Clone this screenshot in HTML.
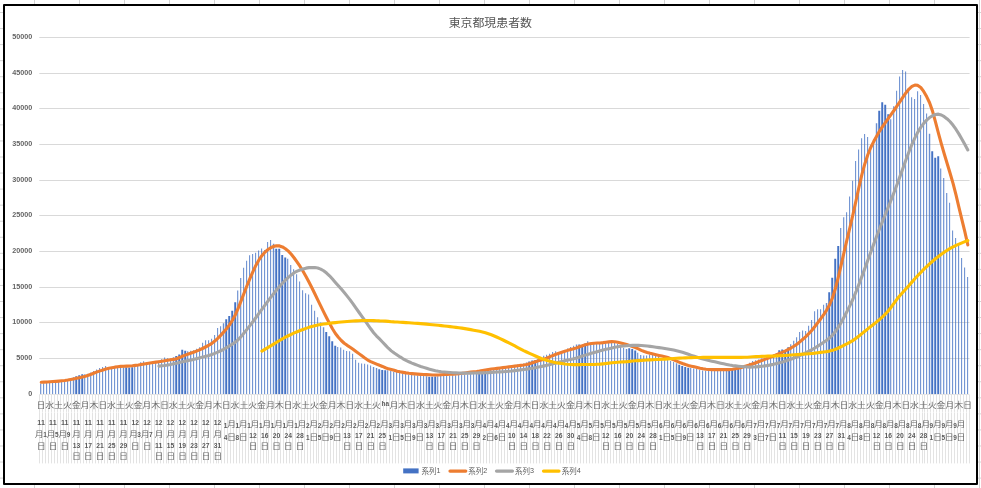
<!DOCTYPE html>
<html><head><meta charset="utf-8"><title>東京都現患者数</title>
<style>
html,body{margin:0;padding:0;background:#fff;}
body{width:981px;height:488px;overflow:hidden;}
svg{display:block;will-change:transform;}
text{font-family:"Liberation Sans","Noto Sans CJK JP",sans-serif;fill:#505050;}
.n{font-size:7.2px;font-weight:bold;fill:#646464;}
.l{font-size:7.2px;fill:#595959;}
.h{font-size:6.5px;font-weight:bold;fill:#5a5a5a;}
.d{font-size:7.1px;font-weight:bold;fill:#5a5a5a;}
.k{font-size:8px;fill:#6a6a6a;}
.t{font-size:11.9px;fill:#555;}
.s{font-size:7.5px;fill:#606060;}
</style></head><body>
<svg width="981" height="488" viewBox="0 0 981 488" role="img" aria-label="東京都現患者数 系列1 系列2 系列3 系列4">
<desc>東京都現患者数 — 系列1, 系列2, 系列3, 系列4</desc>
<rect width="981" height="488" fill="#fff"/>
<path d="M34.5 0V4M34.5 485V488M79.5 0V4M79.5 485V488M124.5 0V4M124.5 485V488M169.5 0V4M169.5 485V488M214.5 0V4M214.5 485V488M259.5 0V4M259.5 485V488M304.5 0V4M304.5 485V488M349.5 0V4M349.5 485V488M394.5 0V4M394.5 485V488M439.5 0V4M439.5 485V488M484.5 0V4M484.5 485V488M529.5 0V4M529.5 485V488M574.5 0V4M574.5 485V488M619.5 0V4M619.5 485V488M664.5 0V4M664.5 485V488M709.5 0V4M709.5 485V488M754.5 0V4M754.5 485V488M799.5 0V4M799.5 485V488M844.5 0V4M844.5 485V488M889.5 0V4M889.5 485V488M934.5 0V4M934.5 485V488M979.5 0V488M0 12.50H3M978 12.50H981M0 28.55H3M978 28.55H981M0 44.61H3M978 44.61H981M0 60.66H3M978 60.66H981M0 76.72H3M978 76.72H981M0 92.78H3M978 92.78H981M0 108.83H3M978 108.83H981M0 124.89H3M978 124.89H981M0 140.94H3M978 140.94H981M0 157.00H3M978 157.00H981M0 173.05H3M978 173.05H981M0 189.11H3M978 189.11H981M0 205.16H3M978 205.16H981M0 221.22H3M978 221.22H981M0 237.27H3M978 237.27H981M0 253.33H3M978 253.33H981M0 269.38H3M978 269.38H981M0 285.44H3M978 285.44H981M0 301.49H3M978 301.49H981M0 317.55H3M978 317.55H981M0 333.60H3M978 333.60H981M0 349.66H3M978 349.66H981M0 365.71H3M978 365.71H981M0 381.77H3M978 381.77H981M0 397.82H3M978 397.82H981M0 413.88H3M978 413.88H981M0 429.93H3M978 429.93H981M0 445.99H3M978 445.99H981M0 462.04H3M978 462.04H981M0 478.10H3M978 478.10H981" stroke="#d4d4d4" stroke-width="1" fill="none"/>
<rect x="4" y="5" width="973" height="479" fill="#fff" stroke="#000" stroke-width="2" stroke-linejoin="round"/>
<path d="M39.30 358.5H969.59M39.30 322.5H969.59M39.30 287.5H969.59M39.30 251.5H969.59M39.30 215.5H969.59M39.30 180.5H969.59M39.30 144.5H969.59M39.30 108.5H969.59M39.30 73.5H969.59M39.30 37.5H969.59" stroke="#d9d9d9" stroke-width="1" fill="none"/>
<path d="M39.3 394.5H969.59" stroke="#e4e4e4" stroke-width="1" fill="none"/>
<text x="32.2" y="395.50" class="n" text-anchor="end">0</text>
<text x="32.2" y="359.50" class="n" text-anchor="end">5000</text>
<text x="32.2" y="323.50" class="n" text-anchor="end">10000</text>
<text x="32.2" y="288.50" class="n" text-anchor="end">15000</text>
<text x="32.2" y="252.50" class="n" text-anchor="end">20000</text>
<text x="32.2" y="216.50" class="n" text-anchor="end">25000</text>
<text x="32.2" y="181.50" class="n" text-anchor="end">30000</text>
<text x="32.2" y="145.50" class="n" text-anchor="end">35000</text>
<text x="32.2" y="109.50" class="n" text-anchor="end">40000</text>
<text x="32.2" y="74.50" class="n" text-anchor="end">45000</text>
<text x="32.2" y="38.50" class="n" text-anchor="end">50000</text>
<path d="M39.5 395V463.4M42.5 395V463.4M45.5 395V463.4M48.5 395V463.4M51.5 395V463.4M54.5 395V463.4M57.5 395V463.4M60.5 395V463.4M63.5 395V463.4M66.5 395V463.4M68.5 395V463.4M71.5 395V463.4M74.5 395V463.4M77.5 395V463.4M80.5 395V463.4M83.5 395V463.4M86.5 395V463.4M89.5 395V463.4M92.5 395V463.4M95.5 395V463.4M98.5 395V463.4M101.5 395V463.4M104.5 395V463.4M107.5 395V463.4M110.5 395V463.4M113.5 395V463.4M116.5 395V463.4M118.5 395V463.4M121.5 395V463.4M124.5 395V463.4M127.5 395V463.4M130.5 395V463.4M133.5 395V463.4M136.5 395V463.4M139.5 395V463.4M142.5 395V463.4M145.5 395V463.4M148.5 395V463.4M151.5 395V463.4M154.5 395V463.4M157.5 395V463.4M160.5 395V463.4M163.5 395V463.4M166.5 395V463.4M168.5 395V463.4M171.5 395V463.4M174.5 395V463.4M177.5 395V463.4M180.5 395V463.4M183.5 395V463.4M186.5 395V463.4M189.5 395V463.4M192.5 395V463.4M195.5 395V463.4M198.5 395V463.4M201.5 395V463.4M204.5 395V463.4M207.5 395V463.4M210.5 395V463.4M213.5 395V463.4M216.5 395V463.4M218.5 395V463.4M221.5 395V463.4M224.5 395V463.4M227.5 395V463.4M230.5 395V463.4M233.5 395V463.4M236.5 395V463.4M239.5 395V463.4M242.5 395V463.4M245.5 395V463.4M248.5 395V463.4M251.5 395V463.4M254.5 395V463.4M257.5 395V463.4M260.5 395V463.4M263.5 395V463.4M266.5 395V463.4M268.5 395V463.4M271.5 395V463.4M274.5 395V463.4M277.5 395V463.4M280.5 395V463.4M283.5 395V463.4M286.5 395V463.4M289.5 395V463.4M292.5 395V463.4M295.5 395V463.4M298.5 395V463.4M301.5 395V463.4M304.5 395V463.4M307.5 395V463.4M310.5 395V463.4M313.5 395V463.4M316.5 395V463.4M318.5 395V463.4M321.5 395V463.4M324.5 395V463.4M327.5 395V463.4M330.5 395V463.4M333.5 395V463.4M336.5 395V463.4M339.5 395V463.4M342.5 395V463.4M345.5 395V463.4M348.5 395V463.4M351.5 395V463.4M354.5 395V463.4M357.5 395V463.4M360.5 395V463.4M363.5 395V463.4M366.5 395V463.4M368.5 395V463.4M371.5 395V463.4M374.5 395V463.4M377.5 395V463.4M380.5 395V463.4M383.5 395V463.4M386.5 395V463.4M389.5 395V463.4M392.5 395V463.4M395.5 395V463.4M398.5 395V463.4M401.5 395V463.4M404.5 395V463.4M407.5 395V463.4M410.5 395V463.4M413.5 395V463.4M416.5 395V463.4M419.5 395V463.4M421.5 395V463.4M424.5 395V463.4M427.5 395V463.4M430.5 395V463.4M433.5 395V463.4M436.5 395V463.4M439.5 395V463.4M442.5 395V463.4M445.5 395V463.4M448.5 395V463.4M451.5 395V463.4M454.5 395V463.4M457.5 395V463.4M460.5 395V463.4M463.5 395V463.4M466.5 395V463.4M469.5 395V463.4M471.5 395V463.4M474.5 395V463.4M477.5 395V463.4M480.5 395V463.4M483.5 395V463.4M486.5 395V463.4M489.5 395V463.4M492.5 395V463.4M495.5 395V463.4M498.5 395V463.4M501.5 395V463.4M504.5 395V463.4M507.5 395V463.4M510.5 395V463.4M513.5 395V463.4M516.5 395V463.4M519.5 395V463.4M521.5 395V463.4M524.5 395V463.4M527.5 395V463.4M530.5 395V463.4M533.5 395V463.4M536.5 395V463.4M539.5 395V463.4M542.5 395V463.4M545.5 395V463.4M548.5 395V463.4M551.5 395V463.4M554.5 395V463.4M557.5 395V463.4M560.5 395V463.4M563.5 395V463.4M566.5 395V463.4M569.5 395V463.4M571.5 395V463.4M574.5 395V463.4M577.5 395V463.4M580.5 395V463.4M583.5 395V463.4M586.5 395V463.4M589.5 395V463.4M592.5 395V463.4M595.5 395V463.4M598.5 395V463.4M601.5 395V463.4M604.5 395V463.4M607.5 395V463.4M610.5 395V463.4M613.5 395V463.4M616.5 395V463.4M619.5 395V463.4M621.5 395V463.4M624.5 395V463.4M627.5 395V463.4M630.5 395V463.4M633.5 395V463.4M636.5 395V463.4M639.5 395V463.4M642.5 395V463.4M645.5 395V463.4M648.5 395V463.4M651.5 395V463.4M654.5 395V463.4M657.5 395V463.4M660.5 395V463.4M663.5 395V463.4M666.5 395V463.4M669.5 395V463.4M671.5 395V463.4M674.5 395V463.4M677.5 395V463.4M680.5 395V463.4M683.5 395V463.4M686.5 395V463.4M689.5 395V463.4M692.5 395V463.4M695.5 395V463.4M698.5 395V463.4M701.5 395V463.4M704.5 395V463.4M707.5 395V463.4M710.5 395V463.4M713.5 395V463.4M716.5 395V463.4M719.5 395V463.4M721.5 395V463.4M724.5 395V463.4M727.5 395V463.4M730.5 395V463.4M733.5 395V463.4M736.5 395V463.4M739.5 395V463.4M742.5 395V463.4M745.5 395V463.4M748.5 395V463.4M751.5 395V463.4M754.5 395V463.4M757.5 395V463.4M760.5 395V463.4M763.5 395V463.4M766.5 395V463.4M769.5 395V463.4M771.5 395V463.4M774.5 395V463.4M777.5 395V463.4M780.5 395V463.4M783.5 395V463.4M786.5 395V463.4M789.5 395V463.4M792.5 395V463.4M795.5 395V463.4M798.5 395V463.4M801.5 395V463.4M804.5 395V463.4M807.5 395V463.4M810.5 395V463.4M813.5 395V463.4M816.5 395V463.4M819.5 395V463.4M821.5 395V463.4M824.5 395V463.4M827.5 395V463.4M830.5 395V463.4M833.5 395V463.4M836.5 395V463.4M839.5 395V463.4M842.5 395V463.4M845.5 395V463.4M848.5 395V463.4M851.5 395V463.4M854.5 395V463.4M857.5 395V463.4M860.5 395V463.4M863.5 395V463.4M866.5 395V463.4M869.5 395V463.4M871.5 395V463.4M874.5 395V463.4M877.5 395V463.4M880.5 395V463.4M883.5 395V463.4M886.5 395V463.4M889.5 395V463.4M892.5 395V463.4M895.5 395V463.4M898.5 395V463.4M901.5 395V463.4M904.5 395V463.4M907.5 395V463.4M910.5 395V463.4M913.5 395V463.4M916.5 395V463.4M919.5 395V463.4M922.5 395V463.4M924.5 395V463.4M927.5 395V463.4M930.5 395V463.4M933.5 395V463.4M936.5 395V463.4M939.5 395V463.4M942.5 395V463.4M945.5 395V463.4M948.5 395V463.4M951.5 395V463.4M954.5 395V463.4M957.5 395V463.4M960.5 395V463.4M963.5 395V463.4M966.5 395V463.4M969.5 395V463.4" stroke="#e3e3e3" stroke-width="1" fill="none"/>
<path d="M39.78 412.3H969.29" stroke="#fff" stroke-width="1" stroke-opacity="0.55" fill="none"/>
<path d="M44 394.00V383.24h1V394.00ZM47 394.00V382.94h1V394.00ZM50 394.00V382.65h1V394.00ZM53 394.00V382.35h1V394.00ZM56 394.00V382.06h1V394.00ZM59 394.00V381.65h1V394.00ZM62 394.00V381.18h1V394.00ZM65 394.00V380.70h1V394.00ZM68 394.00V380.05h1V394.00ZM71 394.00V378.68h1V394.00ZM94 394.00V371.09h1V394.00ZM97 394.00V369.52h1V394.00ZM100 394.00V367.98h1V394.00ZM103 394.00V367.00h1V394.00ZM106 394.00V366.02h1V394.00ZM109 394.00V367.02h1V394.00ZM112 394.00V368.10h1V394.00ZM115 394.00V367.81h1V394.00ZM118 394.00V367.32h1V394.00ZM121 394.00V367.21h1V394.00ZM144 394.00V361.15h1V394.00ZM147 394.00V362.33h1V394.00ZM150 394.00V363.02h1V394.00ZM153 394.00V362.72h1V394.00ZM156 394.00V362.14h1V394.00ZM159 394.00V360.67h1V394.00ZM162 394.00V359.17h1V394.00ZM165 394.00V357.54h1V394.00ZM168 394.00V358.22h1V394.00ZM171 394.00V358.38h1V394.00ZM194 394.00V350.19h1V394.00ZM197 394.00V348.72h1V394.00ZM200 394.00V347.25h1V394.00ZM203 394.00V342.82h1V394.00ZM206 394.00V340.37h1V394.00ZM209 394.00V340.28h1V394.00ZM212 394.00V338.87h1V394.00ZM215 394.00V334.96h1V394.00ZM218 394.00V328.10h1V394.00ZM221 394.00V326.32h1V394.00ZM244 394.00V267.71h1V394.00ZM247 394.00V260.68h1V394.00ZM250 394.00V255.17h1V394.00ZM253 394.00V254.10h1V394.00ZM256 394.00V252.75h1V394.00ZM259 394.00V250.41h1V394.00ZM262 394.00V248.45h1V394.00ZM265 394.00V250.00h1V394.00ZM268 394.00V242.06h1V394.00ZM271 394.00V239.94h1V394.00ZM294 394.00V269.22h1V394.00ZM297 394.00V274.16h1V394.00ZM300 394.00V281.58h1V394.00ZM303 394.00V290.23h1V394.00ZM306 394.00V293.14h1V394.00ZM309 394.00V294.51h1V394.00ZM312 394.00V304.66h1V394.00ZM315 394.00V310.74h1V394.00ZM318 394.00V317.22h1V394.00ZM321 394.00V322.39h1V394.00ZM344 394.00V349.65h1V394.00ZM347 394.00V351.03h1V394.00ZM350 394.00V351.23h1V394.00ZM353 394.00V353.85h1V394.00ZM356 394.00V359.84h1V394.00ZM359 394.00V362.77h1V394.00ZM362 394.00V363.47h1V394.00ZM365 394.00V363.86h1V394.00ZM368 394.00V364.45h1V394.00ZM371 394.00V365.43h1V394.00ZM397 394.00V372.06h1V394.00ZM400 394.00V373.06h1V394.00ZM403 394.00V373.66h1V394.00ZM406 394.00V374.08h1V394.00ZM409 394.00V374.49h1V394.00ZM412 394.00V374.87h1V394.00ZM415 394.00V375.16h1V394.00ZM418 394.00V375.46h1V394.00ZM421 394.00V375.75h1V394.00ZM424 394.00V376.05h1V394.00ZM447 394.00V375.61h1V394.00ZM450 394.00V375.49h1V394.00ZM453 394.00V375.35h1V394.00ZM456 394.00V375.18h1V394.00ZM459 394.00V375.00h1V394.00ZM462 394.00V374.82h1V394.00ZM465 394.00V374.55h1V394.00ZM468 394.00V374.25h1V394.00ZM471 394.00V373.96h1V394.00ZM474 394.00V373.60h1V394.00ZM497 394.00V367.98h1V394.00ZM500 394.00V367.62h1V394.00ZM503 394.00V367.25h1V394.00ZM506 394.00V366.68h1V394.00ZM509 394.00V366.09h1V394.00ZM512 394.00V365.51h1V394.00ZM515 394.00V364.97h1V394.00ZM518 394.00V364.50h1V394.00ZM521 394.00V364.02h1V394.00ZM524 394.00V363.55h1V394.00ZM547 394.00V354.79h1V394.00ZM550 394.00V353.81h1V394.00ZM553 394.00V351.88h1V394.00ZM556 394.00V351.33h1V394.00ZM559 394.00V352.39h1V394.00ZM562 394.00V352.11h1V394.00ZM565 394.00V350.19h1V394.00ZM568 394.00V348.48h1V394.00ZM571 394.00V347.10h1V394.00ZM574 394.00V345.79h1V394.00ZM597 394.00V344.06h1V394.00ZM600 394.00V344.06h1V394.00ZM603 394.00V343.78h1V394.00ZM606 394.00V343.28h1V394.00ZM609 394.00V342.83h1V394.00ZM612 394.00V342.41h1V394.00ZM615 394.00V342.09h1V394.00ZM618 394.00V343.86h1V394.00ZM621 394.00V345.68h1V394.00ZM624 394.00V347.64h1V394.00ZM647 394.00V355.48h1V394.00ZM650 394.00V354.45h1V394.00ZM653 394.00V354.72h1V394.00ZM656 394.00V355.21h1V394.00ZM659 394.00V356.46h1V394.00ZM662 394.00V357.93h1V394.00ZM665 394.00V359.06h1V394.00ZM668 394.00V360.05h1V394.00ZM671 394.00V361.03h1V394.00ZM674 394.00V362.01h1V394.00ZM697 394.00V369.04h1V394.00ZM700 394.00V369.77h1V394.00ZM703 394.00V370.51h1V394.00ZM706 394.00V370.81h1V394.00ZM709 394.00V370.95h1V394.00ZM712 394.00V371.10h1V394.00ZM715 394.00V371.11h1V394.00ZM718 394.00V371.11h1V394.00ZM721 394.00V371.08h1V394.00ZM724 394.00V370.93h1V394.00ZM747 394.00V364.74h1V394.00ZM750 394.00V362.82h1V394.00ZM753 394.00V361.00h1V394.00ZM756 394.00V360.22h1V394.00ZM759 394.00V359.43h1V394.00ZM762 394.00V358.43h1V394.00ZM765 394.00V357.42h1V394.00ZM768 394.00V356.44h1V394.00ZM771 394.00V355.46h1V394.00ZM774 394.00V354.31h1V394.00ZM797 394.00V337.20h1V394.00ZM800 394.00V332.09h1V394.00ZM803 394.00V330.38h1V394.00ZM806 394.00V331.03h1V394.00ZM809 394.00V325.75h1V394.00ZM812 394.00V320.06h1V394.00ZM815 394.00V311.22h1V394.00ZM818 394.00V309.26h1V394.00ZM821 394.00V309.19h1V394.00ZM824 394.00V304.68h1V394.00ZM847 394.00V212.14h1V394.00ZM850 394.00V196.60h1V394.00ZM853 394.00V180.63h1V394.00ZM856 394.00V161.11h1V394.00ZM859 394.00V149.56h1V394.00ZM862 394.00V138.22h1V394.00ZM865 394.00V134.06h1V394.00ZM868 394.00V137.00h1V394.00ZM871 394.00V145.24h1V394.00ZM874 394.00V139.43h1V394.00ZM897 394.00V90.86h1V394.00ZM900 394.00V76.42h1V394.00ZM903 394.00V70.08h1V394.00ZM906 394.00V71.60h1V394.00ZM909 394.00V89.64h1V394.00ZM912 394.00V97.25h1V394.00ZM915 394.00V99.04h1V394.00ZM918 394.00V91.15h1V394.00ZM921 394.00V95.07h1V394.00ZM924 394.00V103.88h1V394.00ZM927 394.00V113.55h1V394.00ZM950 394.00V202.63h1V394.00ZM953 394.00V230.57h1V394.00ZM956 394.00V238.00h1V394.00ZM959 394.00V244.58h1V394.00ZM962 394.00V257.91h1V394.00ZM965 394.00V267.39h1V394.00ZM968 394.00V277.00h1V394.00Z" fill="#4472c4" fill-opacity="0.10"/>
<path d="M72 394.00V377.33h1V394.00ZM122 394.00V367.21h1V394.00ZM172 394.00V357.20h1V394.00ZM222 394.00V323.23h1V394.00ZM272 394.00V243.75h1V394.00ZM322 394.00V327.15h1V394.00ZM372 394.00V366.93h1V394.00ZM375 394.00V367.90h1V394.00ZM425 394.00V376.34h1V394.00ZM475 394.00V373.13h1V394.00ZM525 394.00V362.49h1V394.00ZM575 394.00V344.61h1V394.00ZM625 394.00V349.02h1V394.00ZM675 394.00V363.23h1V394.00ZM725 394.00V370.79h1V394.00ZM775 394.00V353.13h1V394.00ZM825 394.00V303.09h1V394.00ZM875 394.00V123.17h1V394.00ZM928 394.00V133.77h1V394.00Z" fill="#4472c4" fill-opacity="0.15"/>
<path d="M74 394.00V377.33h1V394.00ZM77 394.00V376.15h1V394.00ZM80 394.00V375.15h1V394.00ZM83 394.00V374.20h1V394.00ZM124 394.00V367.21h1V394.00ZM127 394.00V367.35h1V394.00ZM130 394.00V367.55h1V394.00ZM133 394.00V367.15h1V394.00ZM174 394.00V357.20h1V394.00ZM177 394.00V356.02h1V394.00ZM180 394.00V354.46h1V394.00ZM183 394.00V349.85h1V394.00ZM186 394.00V350.85h1V394.00ZM224 394.00V323.23h1V394.00ZM227 394.00V319.25h1V394.00ZM230 394.00V315.93h1V394.00ZM233 394.00V310.85h1V394.00ZM236 394.00V302.21h1V394.00ZM274 394.00V243.75h1V394.00ZM277 394.00V248.75h1V394.00ZM280 394.00V248.85h1V394.00ZM283 394.00V255.07h1V394.00ZM286 394.00V257.62h1V394.00ZM324 394.00V327.15h1V394.00ZM327 394.00V332.02h1V394.00ZM330 394.00V336.33h1V394.00ZM333 394.00V341.14h1V394.00ZM336 394.00V345.81h1V394.00ZM374 394.00V366.93h1V394.00ZM377 394.00V367.90h1V394.00ZM380 394.00V369.36h1V394.00ZM383 394.00V370.04h1V394.00ZM386 394.00V370.26h1V394.00ZM427 394.00V376.34h1V394.00ZM430 394.00V376.63h1V394.00ZM433 394.00V376.76h1V394.00ZM436 394.00V376.47h1V394.00ZM477 394.00V373.13h1V394.00ZM480 394.00V372.66h1V394.00ZM483 394.00V372.19h1V394.00ZM486 394.00V370.68h1V394.00ZM527 394.00V362.49h1V394.00ZM530 394.00V361.39h1V394.00ZM533 394.00V360.38h1V394.00ZM536 394.00V359.89h1V394.00ZM577 394.00V344.61h1V394.00ZM580 394.00V344.39h1V394.00ZM583 394.00V345.88h1V394.00ZM586 394.00V343.62h1V394.00ZM627 394.00V349.02h1V394.00ZM630 394.00V348.29h1V394.00ZM633 394.00V349.12h1V394.00ZM636 394.00V350.39h1V394.00ZM677 394.00V363.23h1V394.00ZM680 394.00V364.70h1V394.00ZM683 394.00V365.97h1V394.00ZM686 394.00V366.95h1V394.00ZM689 394.00V367.74h1V394.00ZM727 394.00V370.79h1V394.00ZM730 394.00V370.13h1V394.00ZM733 394.00V368.66h1V394.00ZM736 394.00V367.77h1V394.00ZM739 394.00V368.26h1V394.00ZM777 394.00V353.13h1V394.00ZM780 394.00V350.13h1V394.00ZM783 394.00V349.61h1V394.00ZM786 394.00V350.20h1V394.00ZM789 394.00V347.30h1V394.00ZM827 394.00V303.09h1V394.00ZM830 394.00V292.24h1V394.00ZM833 394.00V277.85h1V394.00ZM836 394.00V258.83h1V394.00ZM839 394.00V246.07h1V394.00ZM877 394.00V123.17h1V394.00ZM880 394.00V110.71h1V394.00ZM883 394.00V102.32h1V394.00ZM886 394.00V104.86h1V394.00ZM889 394.00V114.16h1V394.00ZM930 394.00V133.77h1V394.00ZM933 394.00V151.25h1V394.00ZM936 394.00V157.63h1V394.00ZM939 394.00V156.24h1V394.00Z" fill="#4472c4" fill-opacity="0.20"/>
<path d="M41 394.00V383.53h1V394.00ZM85 394.00V374.18h1V394.00ZM88 394.00V373.86h1V394.00ZM91 394.00V372.49h1V394.00ZM135 394.00V366.37h1V394.00ZM138 394.00V364.70h1V394.00ZM141 394.00V362.34h1V394.00ZM188 394.00V351.18h1V394.00ZM191 394.00V350.69h1V394.00ZM238 394.00V290.51h1V394.00ZM241 394.00V278.10h1V394.00ZM288 394.00V258.77h1V394.00ZM291 394.00V264.98h1V394.00ZM338 394.00V347.01h1V394.00ZM341 394.00V347.47h1V394.00ZM388 394.00V370.29h1V394.00ZM391 394.00V371.02h1V394.00ZM394 394.00V371.63h1V394.00ZM438 394.00V376.17h1V394.00ZM441 394.00V375.88h1V394.00ZM444 394.00V375.73h1V394.00ZM488 394.00V369.01h1V394.00ZM491 394.00V368.49h1V394.00ZM494 394.00V368.30h1V394.00ZM538 394.00V359.32h1V394.00ZM541 394.00V357.55h1V394.00ZM544 394.00V355.79h1V394.00ZM588 394.00V341.17h1V394.00ZM591 394.00V342.93h1V394.00ZM594 394.00V344.06h1V394.00ZM638 394.00V352.64h1V394.00ZM641 394.00V354.90h1V394.00ZM644 394.00V355.38h1V394.00ZM691 394.00V368.11h1V394.00ZM694 394.00V368.47h1V394.00ZM741 394.00V368.29h1V394.00ZM744 394.00V366.53h1V394.00ZM791 394.00V344.23h1V394.00ZM794 394.00V340.76h1V394.00ZM841 394.00V227.98h1V394.00ZM844 394.00V217.20h1V394.00ZM891 394.00V119.30h1V394.00ZM894 394.00V106.15h1V394.00ZM941 394.00V168.50h1V394.00ZM944 394.00V178.10h1V394.00ZM947 394.00V193.12h1V394.00Z" fill="#4472c4" fill-opacity="0.22"/>
<path d="M40 394.00V383.53h1V394.00ZM84 394.00V374.18h1V394.00ZM87 394.00V373.86h1V394.00ZM90 394.00V372.49h1V394.00ZM134 394.00V366.37h1V394.00ZM137 394.00V364.70h1V394.00ZM140 394.00V362.34h1V394.00ZM187 394.00V351.18h1V394.00ZM190 394.00V350.69h1V394.00ZM237 394.00V290.51h1V394.00ZM240 394.00V278.10h1V394.00ZM287 394.00V258.77h1V394.00ZM290 394.00V264.98h1V394.00ZM337 394.00V347.01h1V394.00ZM340 394.00V347.47h1V394.00ZM387 394.00V370.29h1V394.00ZM390 394.00V371.02h1V394.00ZM393 394.00V371.63h1V394.00ZM437 394.00V376.17h1V394.00ZM440 394.00V375.88h1V394.00ZM443 394.00V375.73h1V394.00ZM487 394.00V369.01h1V394.00ZM490 394.00V368.49h1V394.00ZM493 394.00V368.30h1V394.00ZM537 394.00V359.32h1V394.00ZM540 394.00V357.55h1V394.00ZM543 394.00V355.79h1V394.00ZM587 394.00V341.17h1V394.00ZM590 394.00V342.93h1V394.00ZM593 394.00V344.06h1V394.00ZM637 394.00V352.64h1V394.00ZM640 394.00V354.90h1V394.00ZM643 394.00V355.38h1V394.00ZM690 394.00V368.11h1V394.00ZM693 394.00V368.47h1V394.00ZM740 394.00V368.29h1V394.00ZM743 394.00V366.53h1V394.00ZM790 394.00V344.23h1V394.00ZM793 394.00V340.76h1V394.00ZM840 394.00V227.98h1V394.00ZM843 394.00V217.20h1V394.00ZM890 394.00V119.30h1V394.00ZM893 394.00V106.15h1V394.00ZM940 394.00V168.50h1V394.00ZM943 394.00V178.10h1V394.00ZM946 394.00V193.12h1V394.00Z" fill="#4472c4" fill-opacity="0.70"/>
<path d="M43 394.00V383.24h1V394.00ZM46 394.00V382.94h1V394.00ZM49 394.00V382.65h1V394.00ZM52 394.00V382.35h1V394.00ZM55 394.00V382.06h1V394.00ZM58 394.00V381.65h1V394.00ZM61 394.00V381.18h1V394.00ZM64 394.00V380.70h1V394.00ZM67 394.00V380.05h1V394.00ZM70 394.00V378.68h1V394.00ZM93 394.00V371.09h1V394.00ZM96 394.00V369.52h1V394.00ZM99 394.00V367.98h1V394.00ZM102 394.00V367.00h1V394.00ZM105 394.00V366.02h1V394.00ZM108 394.00V367.02h1V394.00ZM111 394.00V368.10h1V394.00ZM114 394.00V367.81h1V394.00ZM117 394.00V367.32h1V394.00ZM120 394.00V367.21h1V394.00ZM143 394.00V361.15h1V394.00ZM146 394.00V362.33h1V394.00ZM149 394.00V363.02h1V394.00ZM152 394.00V362.72h1V394.00ZM155 394.00V362.14h1V394.00ZM158 394.00V360.67h1V394.00ZM161 394.00V359.17h1V394.00ZM164 394.00V357.54h1V394.00ZM167 394.00V358.22h1V394.00ZM170 394.00V358.38h1V394.00ZM193 394.00V350.19h1V394.00ZM196 394.00V348.72h1V394.00ZM199 394.00V347.25h1V394.00ZM202 394.00V342.82h1V394.00ZM205 394.00V340.37h1V394.00ZM208 394.00V340.28h1V394.00ZM211 394.00V338.87h1V394.00ZM214 394.00V334.96h1V394.00ZM217 394.00V328.10h1V394.00ZM220 394.00V326.32h1V394.00ZM243 394.00V267.71h1V394.00ZM246 394.00V260.68h1V394.00ZM249 394.00V255.17h1V394.00ZM252 394.00V254.10h1V394.00ZM255 394.00V252.75h1V394.00ZM258 394.00V250.41h1V394.00ZM261 394.00V248.45h1V394.00ZM264 394.00V250.00h1V394.00ZM267 394.00V242.06h1V394.00ZM270 394.00V239.94h1V394.00ZM293 394.00V269.22h1V394.00ZM296 394.00V274.16h1V394.00ZM299 394.00V281.58h1V394.00ZM302 394.00V290.23h1V394.00ZM305 394.00V293.14h1V394.00ZM308 394.00V294.51h1V394.00ZM311 394.00V304.66h1V394.00ZM314 394.00V310.74h1V394.00ZM317 394.00V317.22h1V394.00ZM320 394.00V322.39h1V394.00ZM343 394.00V349.65h1V394.00ZM346 394.00V351.03h1V394.00ZM349 394.00V351.23h1V394.00ZM352 394.00V353.85h1V394.00ZM355 394.00V359.84h1V394.00ZM358 394.00V362.77h1V394.00ZM361 394.00V363.47h1V394.00ZM364 394.00V363.86h1V394.00ZM367 394.00V364.45h1V394.00ZM370 394.00V365.43h1V394.00ZM396 394.00V372.06h1V394.00ZM399 394.00V373.06h1V394.00ZM402 394.00V373.66h1V394.00ZM405 394.00V374.08h1V394.00ZM408 394.00V374.49h1V394.00ZM411 394.00V374.87h1V394.00ZM414 394.00V375.16h1V394.00ZM417 394.00V375.46h1V394.00ZM420 394.00V375.75h1V394.00ZM423 394.00V376.05h1V394.00ZM446 394.00V375.61h1V394.00ZM449 394.00V375.49h1V394.00ZM452 394.00V375.35h1V394.00ZM455 394.00V375.18h1V394.00ZM458 394.00V375.00h1V394.00ZM461 394.00V374.82h1V394.00ZM464 394.00V374.55h1V394.00ZM467 394.00V374.25h1V394.00ZM470 394.00V373.96h1V394.00ZM473 394.00V373.60h1V394.00ZM496 394.00V367.98h1V394.00ZM499 394.00V367.62h1V394.00ZM502 394.00V367.25h1V394.00ZM505 394.00V366.68h1V394.00ZM508 394.00V366.09h1V394.00ZM511 394.00V365.51h1V394.00ZM514 394.00V364.97h1V394.00ZM517 394.00V364.50h1V394.00ZM520 394.00V364.02h1V394.00ZM523 394.00V363.55h1V394.00ZM546 394.00V354.79h1V394.00ZM549 394.00V353.81h1V394.00ZM552 394.00V351.88h1V394.00ZM555 394.00V351.33h1V394.00ZM558 394.00V352.39h1V394.00ZM561 394.00V352.11h1V394.00ZM564 394.00V350.19h1V394.00ZM567 394.00V348.48h1V394.00ZM570 394.00V347.10h1V394.00ZM573 394.00V345.79h1V394.00ZM596 394.00V344.06h1V394.00ZM599 394.00V344.06h1V394.00ZM602 394.00V343.78h1V394.00ZM605 394.00V343.28h1V394.00ZM608 394.00V342.83h1V394.00ZM611 394.00V342.41h1V394.00ZM614 394.00V342.09h1V394.00ZM617 394.00V343.86h1V394.00ZM620 394.00V345.68h1V394.00ZM623 394.00V347.64h1V394.00ZM646 394.00V355.48h1V394.00ZM649 394.00V354.45h1V394.00ZM652 394.00V354.72h1V394.00ZM655 394.00V355.21h1V394.00ZM658 394.00V356.46h1V394.00ZM661 394.00V357.93h1V394.00ZM664 394.00V359.06h1V394.00ZM667 394.00V360.05h1V394.00ZM670 394.00V361.03h1V394.00ZM673 394.00V362.01h1V394.00ZM696 394.00V369.04h1V394.00ZM699 394.00V369.77h1V394.00ZM702 394.00V370.51h1V394.00ZM705 394.00V370.81h1V394.00ZM708 394.00V370.95h1V394.00ZM711 394.00V371.10h1V394.00ZM714 394.00V371.11h1V394.00ZM717 394.00V371.11h1V394.00ZM720 394.00V371.08h1V394.00ZM723 394.00V370.93h1V394.00ZM746 394.00V364.74h1V394.00ZM749 394.00V362.82h1V394.00ZM752 394.00V361.00h1V394.00ZM755 394.00V360.22h1V394.00ZM758 394.00V359.43h1V394.00ZM761 394.00V358.43h1V394.00ZM764 394.00V357.42h1V394.00ZM767 394.00V356.44h1V394.00ZM770 394.00V355.46h1V394.00ZM773 394.00V354.31h1V394.00ZM796 394.00V337.20h1V394.00ZM799 394.00V332.09h1V394.00ZM802 394.00V330.38h1V394.00ZM805 394.00V331.03h1V394.00ZM808 394.00V325.75h1V394.00ZM811 394.00V320.06h1V394.00ZM814 394.00V311.22h1V394.00ZM817 394.00V309.26h1V394.00ZM820 394.00V309.19h1V394.00ZM823 394.00V304.68h1V394.00ZM846 394.00V212.14h1V394.00ZM849 394.00V196.60h1V394.00ZM852 394.00V180.63h1V394.00ZM855 394.00V161.11h1V394.00ZM858 394.00V149.56h1V394.00ZM861 394.00V138.22h1V394.00ZM864 394.00V134.06h1V394.00ZM867 394.00V137.00h1V394.00ZM870 394.00V145.24h1V394.00ZM873 394.00V139.43h1V394.00ZM896 394.00V90.86h1V394.00ZM899 394.00V76.42h1V394.00ZM902 394.00V70.08h1V394.00ZM905 394.00V71.60h1V394.00ZM908 394.00V89.64h1V394.00ZM911 394.00V97.25h1V394.00ZM914 394.00V99.04h1V394.00ZM917 394.00V91.15h1V394.00ZM920 394.00V95.07h1V394.00ZM923 394.00V103.88h1V394.00ZM926 394.00V113.55h1V394.00ZM949 394.00V202.63h1V394.00ZM952 394.00V230.57h1V394.00ZM955 394.00V238.00h1V394.00ZM958 394.00V244.58h1V394.00ZM961 394.00V257.91h1V394.00ZM964 394.00V267.39h1V394.00ZM967 394.00V277.00h1V394.00Z" fill="#4472c4" fill-opacity="0.74"/>
<path d="M75 394.00V376.15h1V394.00ZM78 394.00V375.15h1V394.00ZM81 394.00V374.20h1V394.00ZM125 394.00V367.35h1V394.00ZM128 394.00V367.55h1V394.00ZM131 394.00V367.15h1V394.00ZM175 394.00V356.02h1V394.00ZM178 394.00V354.46h1V394.00ZM181 394.00V349.85h1V394.00ZM184 394.00V350.85h1V394.00ZM225 394.00V319.25h1V394.00ZM228 394.00V315.93h1V394.00ZM231 394.00V310.85h1V394.00ZM234 394.00V302.21h1V394.00ZM275 394.00V248.75h1V394.00ZM278 394.00V248.85h1V394.00ZM281 394.00V255.07h1V394.00ZM284 394.00V257.62h1V394.00ZM325 394.00V332.02h1V394.00ZM328 394.00V336.33h1V394.00ZM331 394.00V341.14h1V394.00ZM334 394.00V345.81h1V394.00ZM378 394.00V369.36h1V394.00ZM381 394.00V370.04h1V394.00ZM384 394.00V370.26h1V394.00ZM428 394.00V376.63h1V394.00ZM431 394.00V376.76h1V394.00ZM434 394.00V376.47h1V394.00ZM478 394.00V372.66h1V394.00ZM481 394.00V372.19h1V394.00ZM484 394.00V370.68h1V394.00ZM528 394.00V361.39h1V394.00ZM531 394.00V360.38h1V394.00ZM534 394.00V359.89h1V394.00ZM578 394.00V344.39h1V394.00ZM581 394.00V345.88h1V394.00ZM584 394.00V343.62h1V394.00ZM628 394.00V348.29h1V394.00ZM631 394.00V349.12h1V394.00ZM634 394.00V350.39h1V394.00ZM678 394.00V364.70h1V394.00ZM681 394.00V365.97h1V394.00ZM684 394.00V366.95h1V394.00ZM687 394.00V367.74h1V394.00ZM728 394.00V370.13h1V394.00ZM731 394.00V368.66h1V394.00ZM734 394.00V367.77h1V394.00ZM737 394.00V368.26h1V394.00ZM778 394.00V350.13h1V394.00ZM781 394.00V349.61h1V394.00ZM784 394.00V350.20h1V394.00ZM787 394.00V347.30h1V394.00ZM828 394.00V292.24h1V394.00ZM831 394.00V277.85h1V394.00ZM834 394.00V258.83h1V394.00ZM837 394.00V246.07h1V394.00ZM878 394.00V110.71h1V394.00ZM881 394.00V102.32h1V394.00ZM884 394.00V104.86h1V394.00ZM887 394.00V114.16h1V394.00ZM931 394.00V151.25h1V394.00ZM934 394.00V157.63h1V394.00ZM937 394.00V156.24h1V394.00Z" fill="#4472c4" fill-opacity="0.75"/>
<path d="M73 394.00V377.33h1V394.00ZM123 394.00V367.21h1V394.00ZM173 394.00V357.20h1V394.00ZM223 394.00V323.23h1V394.00ZM273 394.00V243.75h1V394.00ZM323 394.00V327.15h1V394.00ZM373 394.00V366.93h1V394.00ZM376 394.00V367.90h1V394.00ZM426 394.00V376.34h1V394.00ZM476 394.00V373.13h1V394.00ZM526 394.00V362.49h1V394.00ZM576 394.00V344.61h1V394.00ZM626 394.00V349.02h1V394.00ZM676 394.00V363.23h1V394.00ZM726 394.00V370.79h1V394.00ZM776 394.00V353.13h1V394.00ZM826 394.00V303.09h1V394.00ZM876 394.00V123.17h1V394.00ZM929 394.00V133.77h1V394.00Z" fill="#4472c4" fill-opacity="0.80"/>
<path d="M76 394.00V376.15h1V394.00ZM79 394.00V375.15h1V394.00ZM82 394.00V374.20h1V394.00ZM126 394.00V367.35h1V394.00ZM129 394.00V367.55h1V394.00ZM132 394.00V367.15h1V394.00ZM176 394.00V356.02h1V394.00ZM179 394.00V354.46h1V394.00ZM182 394.00V349.85h1V394.00ZM185 394.00V350.85h1V394.00ZM226 394.00V319.25h1V394.00ZM229 394.00V315.93h1V394.00ZM232 394.00V310.85h1V394.00ZM235 394.00V302.21h1V394.00ZM276 394.00V248.75h1V394.00ZM279 394.00V248.85h1V394.00ZM282 394.00V255.07h1V394.00ZM285 394.00V257.62h1V394.00ZM326 394.00V332.02h1V394.00ZM329 394.00V336.33h1V394.00ZM332 394.00V341.14h1V394.00ZM335 394.00V345.81h1V394.00ZM379 394.00V369.36h1V394.00ZM382 394.00V370.04h1V394.00ZM385 394.00V370.26h1V394.00ZM429 394.00V376.63h1V394.00ZM432 394.00V376.76h1V394.00ZM435 394.00V376.47h1V394.00ZM479 394.00V372.66h1V394.00ZM482 394.00V372.19h1V394.00ZM485 394.00V370.68h1V394.00ZM529 394.00V361.39h1V394.00ZM532 394.00V360.38h1V394.00ZM535 394.00V359.89h1V394.00ZM579 394.00V344.39h1V394.00ZM582 394.00V345.88h1V394.00ZM585 394.00V343.62h1V394.00ZM629 394.00V348.29h1V394.00ZM632 394.00V349.12h1V394.00ZM635 394.00V350.39h1V394.00ZM679 394.00V364.70h1V394.00ZM682 394.00V365.97h1V394.00ZM685 394.00V366.95h1V394.00ZM688 394.00V367.74h1V394.00ZM729 394.00V370.13h1V394.00ZM732 394.00V368.66h1V394.00ZM735 394.00V367.77h1V394.00ZM738 394.00V368.26h1V394.00ZM779 394.00V350.13h1V394.00ZM782 394.00V349.61h1V394.00ZM785 394.00V350.20h1V394.00ZM788 394.00V347.30h1V394.00ZM829 394.00V292.24h1V394.00ZM832 394.00V277.85h1V394.00ZM835 394.00V258.83h1V394.00ZM838 394.00V246.07h1V394.00ZM879 394.00V110.71h1V394.00ZM882 394.00V102.32h1V394.00ZM885 394.00V104.86h1V394.00ZM888 394.00V114.16h1V394.00ZM932 394.00V151.25h1V394.00ZM935 394.00V157.63h1V394.00ZM938 394.00V156.24h1V394.00Z" fill="#4472c4" fill-opacity="1.00"/>
<path d="M41.25 382.31L44.19 382.12L47.13 381.94L50.08 381.75L53.02 381.57L55.96 381.36L58.90 381.11L61.84 380.82L64.78 380.50L67.72 380.08L70.67 379.54L73.61 378.95L76.55 378.34L79.49 377.67L82.43 376.97L85.37 376.22L88.31 375.31L91.26 374.21L94.20 373.03L97.14 371.90L100.08 370.88L103.02 369.93L105.96 369.06L108.91 368.33L111.85 367.69L114.79 367.15L117.73 366.73L120.67 366.40L123.61 366.18L126.55 366.08L129.50 365.95L132.44 365.69L135.38 365.34L138.32 364.94L141.26 364.47L144.20 363.96L147.14 363.47L150.09 363.01L153.03 362.57L155.97 362.13L158.91 361.69L161.85 361.23L164.79 360.75L167.74 360.25L170.68 359.80L173.62 359.41L176.56 358.71L179.50 357.56L182.44 356.28L185.38 355.12L188.33 354.06L191.27 353.02L194.21 351.94L197.15 350.83L200.09 349.63L203.03 348.25L205.97 346.75L208.92 345.21L211.86 343.39L214.80 341.03L217.74 338.33L220.68 335.40L223.62 332.14L226.57 328.72L229.51 324.90L232.45 320.25L235.39 314.71L238.33 307.98L241.27 300.37L244.21 292.70L247.16 285.30L250.10 278.15L253.04 271.31L255.98 265.15L258.92 259.94L261.86 255.65L264.80 252.30L267.75 249.70L270.69 247.73L273.63 246.38L276.57 245.74L279.51 245.92L282.45 246.94L285.40 248.74L288.34 251.16L291.28 254.26L294.22 257.98L297.16 262.10L300.10 266.47L303.04 271.23L305.99 276.44L308.93 281.98L311.87 287.76L314.81 293.71L317.75 299.80L320.69 305.92L323.63 311.93L326.58 317.78L329.52 323.38L332.46 328.75L335.40 333.51L338.34 337.29L341.28 340.51L344.23 343.25L347.17 345.36L350.11 347.24L353.05 349.26L355.99 351.42L358.93 353.63L361.87 355.83L364.82 358.04L367.76 360.03L370.70 361.56L373.64 362.83L376.58 364.09L379.52 365.30L382.46 366.43L385.41 367.71L388.35 368.85L391.29 369.48L394.23 370.23L397.17 371.17L400.11 371.82L403.06 372.37L406.00 372.88L408.94 373.29L411.88 373.63L414.82 373.91L417.76 374.14L420.70 374.35L423.65 374.52L426.59 374.67L429.53 374.81L432.47 374.96L435.41 375.07L438.35 375.03L441.29 374.81L444.24 374.55L447.18 374.37L450.12 374.27L453.06 374.16L456.00 373.94L458.94 373.66L461.89 373.33L464.83 372.93L467.77 372.50L470.71 372.11L473.65 371.78L476.59 371.46L479.53 371.03L482.48 370.49L485.42 369.93L488.36 369.47L491.30 369.08L494.24 368.71L497.18 368.34L500.12 367.98L503.07 367.61L506.01 367.24L508.95 366.87L511.89 366.51L514.83 366.14L517.77 365.77L520.72 365.40L523.66 365.03L526.60 364.54L529.54 363.74L532.48 362.70L535.42 361.68L538.36 360.83L541.31 360.07L544.25 359.15L547.19 357.96L550.13 356.66L553.07 355.43L556.01 354.30L558.95 353.23L561.90 352.21L564.84 351.24L567.78 350.37L570.72 349.61L573.66 348.83L576.60 347.88L579.55 346.82L582.49 345.71L585.43 344.66L588.37 343.92L591.31 343.47L594.25 343.18L597.19 343.05L600.14 342.95L603.08 342.65L606.02 342.23L608.96 341.87L611.90 341.64L614.84 341.71L617.78 342.19L620.73 342.90L623.67 343.70L626.61 344.57L629.55 345.48L632.49 346.43L635.43 347.54L638.38 348.92L641.32 350.36L644.26 351.55L647.20 352.51L650.14 353.32L653.08 354.03L656.02 354.71L658.97 355.39L661.91 356.03L664.85 356.69L667.79 357.55L670.73 358.65L673.67 359.86L676.61 361.11L679.56 362.35L682.50 363.53L685.44 364.57L688.38 365.39L691.32 366.13L694.26 366.87L697.21 367.60L700.15 368.28L703.09 368.82L706.03 369.23L708.97 369.52L711.91 369.65L714.85 369.67L717.80 369.67L720.74 369.67L723.68 369.67L726.62 369.67L729.56 369.58L732.50 369.27L735.44 368.82L738.39 368.27L741.33 367.53L744.27 366.60L747.21 365.61L750.15 364.72L753.09 363.81L756.04 362.69L758.98 361.54L761.92 360.43L764.86 359.33L767.80 358.22L770.74 357.11L773.68 355.95L776.63 354.72L779.57 353.46L782.51 352.17L785.45 350.86L788.39 349.44L791.33 347.80L794.27 346.00L797.22 343.98L800.16 341.61L803.10 339.04L806.04 336.34L808.98 333.46L811.92 330.24L814.87 326.55L817.81 322.62L820.75 318.70L823.69 314.58L826.63 310.04L829.57 304.73L832.51 297.73L835.46 288.33L838.40 276.80L841.34 264.13L844.28 251.25L847.22 238.72L850.16 226.50L853.10 213.82L856.05 200.46L858.99 187.00L861.93 174.42L864.87 163.70L867.81 154.75L870.75 147.46L873.70 141.60L876.64 136.18L879.58 131.05L882.52 126.57L885.46 122.42L888.40 118.30L891.34 114.19L894.29 110.02L897.23 105.70L900.17 101.30L903.11 96.89L906.05 92.67L908.99 89.06L911.93 86.40L914.88 85.06L917.82 85.39L920.76 87.54L923.70 91.42L926.64 96.57L929.58 102.75L932.53 111.12L935.47 121.94L938.41 133.21L941.35 143.87L944.29 154.03L947.23 163.75L950.17 173.44L953.12 183.61L956.06 195.06L959.00 207.64L961.94 219.79L964.88 231.76L967.82 244.88" stroke="#ed7d31" stroke-width="3.1" fill="none" stroke-linecap="round" stroke-linejoin="round"/>
<path d="M158.91 366.14L161.85 365.79L164.79 365.43L167.74 365.00L170.68 364.46L173.62 363.85L176.56 363.20L179.50 362.49L182.44 361.77L185.38 361.12L188.33 360.52L191.27 359.90L194.21 359.21L197.15 358.48L200.09 357.75L203.03 357.01L205.97 356.26L208.92 355.41L211.86 354.43L214.80 353.36L217.74 352.13L220.68 350.75L223.62 349.26L226.57 347.61L229.51 345.84L232.45 344.07L235.39 342.10L238.33 339.53L241.27 336.38L244.21 332.85L247.16 329.15L250.10 325.38L253.04 321.48L255.98 317.47L258.92 313.43L261.86 309.38L264.80 305.34L267.75 301.33L270.69 297.44L273.63 293.70L276.57 290.08L279.51 286.59L282.45 283.24L285.40 280.10L288.34 277.36L291.28 274.88L294.22 272.74L297.16 271.19L300.10 269.96L303.04 268.91L305.99 268.13L308.93 267.65L311.87 267.50L314.81 267.59L317.75 268.08L320.69 269.13L323.63 270.77L326.58 273.02L329.52 275.78L332.46 279.00L335.40 282.40L338.34 285.74L341.28 289.07L344.23 292.52L347.17 296.13L350.11 299.88L353.05 303.85L355.99 308.04L358.93 312.24L361.87 316.34L364.82 320.40L367.76 324.53L370.70 328.76L373.64 332.73L376.58 336.03L379.52 338.95L382.46 342.00L385.41 345.17L388.35 348.21L391.29 350.87L394.23 353.06L397.17 355.00L400.11 356.93L403.06 358.77L406.00 360.39L408.94 361.79L411.88 363.08L414.82 364.27L417.76 365.39L420.70 366.44L423.65 367.39L426.59 368.28L429.53 369.14L432.47 369.96L435.41 370.73L438.35 371.32L441.29 371.70L444.24 371.99L447.18 372.24L450.12 372.47L453.06 372.68L456.00 372.85L458.94 373.00L461.89 373.12L464.83 373.15L467.77 373.15L470.71 373.13L473.65 373.07L476.59 373.00L479.53 372.92L482.48 372.85L485.42 372.75L488.36 372.60L491.30 372.39L494.24 372.18L497.18 372.01L500.12 371.86L503.07 371.69L506.01 371.49L508.95 371.26L511.89 370.99L514.83 370.65L517.77 370.28L520.72 369.91L523.66 369.54L526.60 369.15L529.54 368.70L532.48 368.19L535.42 367.66L538.36 367.10L541.31 366.51L544.25 365.87L547.19 365.17L550.13 364.43L553.07 363.67L556.01 362.89L558.95 362.13L561.90 361.41L564.84 360.73L567.78 360.08L570.72 359.43L573.66 358.77L576.60 357.98L579.55 357.04L582.49 356.05L585.43 355.10L588.37 354.19L591.31 353.32L594.25 352.47L597.19 351.66L600.14 350.86L603.08 350.10L606.02 349.36L608.96 348.64L611.90 347.95L614.84 347.30L617.78 346.73L620.73 346.30L623.67 345.95L626.61 345.68L629.55 345.50L632.49 345.38L635.43 345.35L638.38 345.40L641.32 345.52L644.26 345.73L647.20 346.02L650.14 346.35L653.08 346.75L656.02 347.19L658.97 347.63L661.91 348.07L664.85 348.52L667.79 349.00L670.73 349.50L673.67 350.05L676.61 350.69L679.56 351.41L682.50 352.22L685.44 353.20L688.38 354.29L691.32 355.35L694.26 356.34L697.21 357.28L700.15 358.15L703.09 358.93L706.03 359.66L708.97 360.40L711.91 361.13L714.85 361.86L717.80 362.55L720.74 363.22L723.68 363.86L726.62 364.47L729.56 365.05L732.50 365.55L735.44 365.91L738.39 366.21L741.33 366.51L744.27 366.80L747.21 367.04L750.15 367.12L753.09 367.07L756.04 366.90L758.98 366.62L761.92 366.28L764.86 365.90L767.80 365.42L770.74 364.89L773.68 364.29L776.63 363.59L779.57 362.83L782.51 361.98L785.45 361.05L788.39 360.07L791.33 359.02L794.27 357.93L797.22 356.75L800.16 355.44L803.10 354.04L806.04 352.62L808.98 351.16L811.92 349.65L814.87 347.99L817.81 346.15L820.75 344.22L823.69 342.27L826.63 340.29L829.57 338.02L832.51 335.10L835.46 331.48L838.40 327.15L841.34 322.21L844.28 316.76L847.22 310.97L850.16 305.07L853.10 298.75L856.05 291.70L858.99 284.19L861.93 276.38L864.87 268.35L867.81 260.26L870.75 252.17L873.70 244.10L876.64 236.24L879.58 228.72L882.52 221.37L885.46 214.04L888.40 206.73L891.34 199.37L894.29 191.79L897.23 183.95L900.17 175.87L903.11 167.65L906.05 159.53L908.99 151.70L911.93 144.42L914.88 137.87L917.82 132.16L920.76 127.38L923.70 123.40L926.64 120.12L929.58 117.55L932.53 115.71L935.47 114.48L938.41 114.16L941.35 115.00L944.29 116.67L947.23 118.91L950.17 121.75L953.12 125.32L956.06 129.47L959.00 134.10L961.94 139.19L964.88 144.60L967.82 149.96" stroke="#a5a5a5" stroke-width="3.1" fill="none" stroke-linecap="round" stroke-linejoin="round"/>
<path d="M261.86 351.06L264.80 349.34L267.75 347.62L270.69 345.86L273.63 344.07L276.57 342.27L279.51 340.49L282.45 338.80L285.40 337.24L288.34 335.75L291.28 334.30L294.22 332.94L297.16 331.70L300.10 330.55L303.04 329.43L305.99 328.35L308.93 327.35L311.87 326.46L314.81 325.67L317.75 325.01L320.69 324.51L323.63 324.09L326.58 323.68L329.52 323.26L332.46 322.90L335.40 322.59L338.34 322.31L341.28 322.02L344.23 321.73L347.17 321.46L350.11 321.23L353.05 321.03L355.99 320.84L358.93 320.68L361.87 320.56L364.82 320.49L367.76 320.45L370.70 320.47L373.64 320.58L376.58 320.77L379.52 320.92L382.46 320.98L385.41 321.12L388.35 321.40L391.29 321.70L394.23 321.91L397.17 322.05L400.11 322.20L403.06 322.39L406.00 322.60L408.94 322.81L411.88 323.01L414.82 323.19L417.76 323.38L420.70 323.59L423.65 323.84L426.59 324.13L429.53 324.42L432.47 324.71L435.41 325.01L438.35 325.31L441.29 325.62L444.24 325.95L447.18 326.30L450.12 326.65L453.06 327.00L456.00 327.36L458.94 327.72L461.89 328.13L464.83 328.60L467.77 329.12L470.71 329.65L473.65 330.18L476.59 330.71L479.53 331.26L482.48 331.93L485.42 332.75L488.36 333.72L491.30 334.79L494.24 335.97L497.18 337.24L500.12 338.60L503.07 340.02L506.01 341.49L508.95 342.96L511.89 344.44L514.83 345.95L517.77 347.51L520.72 349.09L523.66 350.61L526.60 352.02L529.54 353.36L532.48 354.68L535.42 356.00L538.36 357.27L541.31 358.44L544.25 359.51L547.19 360.48L550.13 361.34L553.07 362.08L556.01 362.67L558.95 363.14L561.90 363.59L564.84 364.01L567.78 364.32L570.72 364.53L573.66 364.64L576.60 364.64L579.55 364.59L582.49 364.56L585.43 364.55L588.37 364.54L591.31 364.52L594.25 364.44L597.19 364.31L600.14 364.12L603.08 363.84L606.02 363.51L608.96 363.14L611.90 362.78L614.84 362.44L617.78 362.18L620.73 362.02L623.67 361.88L626.61 361.68L629.55 361.38L632.49 361.07L635.43 360.82L638.38 360.63L641.32 360.46L644.26 360.27L647.20 360.06L650.14 359.87L653.08 359.69L656.02 359.54L658.97 359.40L661.91 359.25L664.85 359.09L667.79 358.91L670.73 358.70L673.67 358.50L676.61 358.32L679.56 358.16L682.50 358.01L685.44 357.87L688.38 357.73L691.32 357.61L694.26 357.54L697.21 357.48L700.15 357.43L703.09 357.40L706.03 357.38L708.97 357.38L711.91 357.38L714.85 357.38L717.80 357.38L720.74 357.38L723.68 357.38L726.62 357.38L729.56 357.38L732.50 357.38L735.44 357.38L738.39 357.38L741.33 357.37L744.27 357.31L747.21 357.18L750.15 357.01L753.09 356.82L756.04 356.64L758.98 356.47L761.92 356.33L764.86 356.22L767.80 356.13L770.74 356.04L773.68 355.96L776.63 355.86L779.57 355.75L782.51 355.61L785.45 355.42L788.39 355.22L791.33 355.01L794.27 354.81L797.22 354.60L800.16 354.39L803.10 354.17L806.04 353.94L808.98 353.69L811.92 353.42L814.87 353.10L817.81 352.75L820.75 352.39L823.69 352.00L826.63 351.59L829.57 351.10L832.51 350.36L835.46 349.28L838.40 347.97L841.34 346.59L844.28 345.17L847.22 343.71L850.16 342.16L853.10 340.37L856.05 338.26L858.99 335.96L861.93 333.60L864.87 331.25L867.81 328.90L870.75 326.54L873.70 324.19L876.64 321.84L879.58 319.44L882.52 316.87L885.46 313.97L888.40 310.69L891.34 306.95L894.29 302.83L897.23 298.84L900.17 295.28L903.11 291.99L906.05 288.72L908.99 285.42L911.93 282.11L914.88 278.81L917.82 275.57L920.76 272.44L923.70 269.44L926.64 266.58L929.58 263.84L932.53 261.24L935.47 258.77L938.41 256.44L941.35 254.23L944.29 252.16L947.23 250.22L950.17 248.44L953.12 246.83L956.06 245.39L959.00 244.08L961.94 242.84L964.88 241.67L967.82 240.57" stroke="#ffc000" stroke-width="3.1" fill="none" stroke-linecap="round" stroke-linejoin="round"/>
<text x="448.65" y="26.5" class="t" textLength="83.3" lengthAdjust="spacingAndGlyphs">東京都現患者数</text>
<text x="36.47" y="407.86" class="k" textLength="9" lengthAdjust="spacingAndGlyphs">日</text>
<text x="45.29" y="407.86" class="k" textLength="9" lengthAdjust="spacingAndGlyphs">水</text>
<text x="54.11" y="407.86" class="k" textLength="9" lengthAdjust="spacingAndGlyphs">土</text>
<text x="62.94" y="407.86" class="k" textLength="9" lengthAdjust="spacingAndGlyphs">火</text>
<text x="71.76" y="407.86" class="k" textLength="9" lengthAdjust="spacingAndGlyphs">金</text>
<text x="80.59" y="407.86" class="k" textLength="9" lengthAdjust="spacingAndGlyphs">月</text>
<text x="89.41" y="407.86" class="k" textLength="9" lengthAdjust="spacingAndGlyphs">木</text>
<text x="98.24" y="407.86" class="k" textLength="9" lengthAdjust="spacingAndGlyphs">日</text>
<text x="107.06" y="407.86" class="k" textLength="9" lengthAdjust="spacingAndGlyphs">水</text>
<text x="115.89" y="407.86" class="k" textLength="9" lengthAdjust="spacingAndGlyphs">土</text>
<text x="124.71" y="407.86" class="k" textLength="9" lengthAdjust="spacingAndGlyphs">火</text>
<text x="133.54" y="407.86" class="k" textLength="9" lengthAdjust="spacingAndGlyphs">金</text>
<text x="142.36" y="407.86" class="k" textLength="9" lengthAdjust="spacingAndGlyphs">月</text>
<text x="151.18" y="407.86" class="k" textLength="9" lengthAdjust="spacingAndGlyphs">木</text>
<text x="160.01" y="407.86" class="k" textLength="9" lengthAdjust="spacingAndGlyphs">日</text>
<text x="168.83" y="407.86" class="k" textLength="9" lengthAdjust="spacingAndGlyphs">水</text>
<text x="177.66" y="407.86" class="k" textLength="9" lengthAdjust="spacingAndGlyphs">土</text>
<text x="186.48" y="407.86" class="k" textLength="9" lengthAdjust="spacingAndGlyphs">火</text>
<text x="195.31" y="407.86" class="k" textLength="9" lengthAdjust="spacingAndGlyphs">金</text>
<text x="204.13" y="407.86" class="k" textLength="9" lengthAdjust="spacingAndGlyphs">月</text>
<text x="212.96" y="407.86" class="k" textLength="9" lengthAdjust="spacingAndGlyphs">木</text>
<text x="221.78" y="407.86" class="k" textLength="9" lengthAdjust="spacingAndGlyphs">日</text>
<text x="230.60" y="407.86" class="k" textLength="9" lengthAdjust="spacingAndGlyphs">水</text>
<text x="239.43" y="407.86" class="k" textLength="9" lengthAdjust="spacingAndGlyphs">土</text>
<text x="248.25" y="407.86" class="k" textLength="9" lengthAdjust="spacingAndGlyphs">火</text>
<text x="257.08" y="407.86" class="k" textLength="9" lengthAdjust="spacingAndGlyphs">金</text>
<text x="265.90" y="407.86" class="k" textLength="9" lengthAdjust="spacingAndGlyphs">月</text>
<text x="274.73" y="407.86" class="k" textLength="9" lengthAdjust="spacingAndGlyphs">木</text>
<text x="283.55" y="407.86" class="k" textLength="9" lengthAdjust="spacingAndGlyphs">日</text>
<text x="292.38" y="407.86" class="k" textLength="9" lengthAdjust="spacingAndGlyphs">水</text>
<text x="301.20" y="407.86" class="k" textLength="9" lengthAdjust="spacingAndGlyphs">土</text>
<text x="310.03" y="407.86" class="k" textLength="9" lengthAdjust="spacingAndGlyphs">火</text>
<text x="318.85" y="407.86" class="k" textLength="9" lengthAdjust="spacingAndGlyphs">金</text>
<text x="327.67" y="407.86" class="k" textLength="9" lengthAdjust="spacingAndGlyphs">月</text>
<text x="336.50" y="407.86" class="k" textLength="9" lengthAdjust="spacingAndGlyphs">木</text>
<text x="345.32" y="407.86" class="k" textLength="9" lengthAdjust="spacingAndGlyphs">日</text>
<text x="354.15" y="407.86" class="k" textLength="9" lengthAdjust="spacingAndGlyphs">水</text>
<text x="362.97" y="407.86" class="k" textLength="9" lengthAdjust="spacingAndGlyphs">土</text>
<text x="371.80" y="407.86" class="k" textLength="9" lengthAdjust="spacingAndGlyphs">火</text>
<text x="381.51" y="406.2" class="h">ha</text>
<text x="389.45" y="407.86" class="k" textLength="9" lengthAdjust="spacingAndGlyphs">月</text>
<text x="398.27" y="407.86" class="k" textLength="9" lengthAdjust="spacingAndGlyphs">木</text>
<text x="407.09" y="407.86" class="k" textLength="9" lengthAdjust="spacingAndGlyphs">日</text>
<text x="415.92" y="407.86" class="k" textLength="9" lengthAdjust="spacingAndGlyphs">水</text>
<text x="424.74" y="407.86" class="k" textLength="9" lengthAdjust="spacingAndGlyphs">土</text>
<text x="433.57" y="407.86" class="k" textLength="9" lengthAdjust="spacingAndGlyphs">火</text>
<text x="442.39" y="407.86" class="k" textLength="9" lengthAdjust="spacingAndGlyphs">金</text>
<text x="451.22" y="407.86" class="k" textLength="9" lengthAdjust="spacingAndGlyphs">月</text>
<text x="460.04" y="407.86" class="k" textLength="9" lengthAdjust="spacingAndGlyphs">木</text>
<text x="468.87" y="407.86" class="k" textLength="9" lengthAdjust="spacingAndGlyphs">日</text>
<text x="477.69" y="407.86" class="k" textLength="9" lengthAdjust="spacingAndGlyphs">水</text>
<text x="486.52" y="407.86" class="k" textLength="9" lengthAdjust="spacingAndGlyphs">土</text>
<text x="495.34" y="407.86" class="k" textLength="9" lengthAdjust="spacingAndGlyphs">火</text>
<text x="504.16" y="407.86" class="k" textLength="9" lengthAdjust="spacingAndGlyphs">金</text>
<text x="512.99" y="407.86" class="k" textLength="9" lengthAdjust="spacingAndGlyphs">月</text>
<text x="521.81" y="407.86" class="k" textLength="9" lengthAdjust="spacingAndGlyphs">木</text>
<text x="530.64" y="407.86" class="k" textLength="9" lengthAdjust="spacingAndGlyphs">日</text>
<text x="539.46" y="407.86" class="k" textLength="9" lengthAdjust="spacingAndGlyphs">水</text>
<text x="548.29" y="407.86" class="k" textLength="9" lengthAdjust="spacingAndGlyphs">土</text>
<text x="557.11" y="407.86" class="k" textLength="9" lengthAdjust="spacingAndGlyphs">火</text>
<text x="565.94" y="407.86" class="k" textLength="9" lengthAdjust="spacingAndGlyphs">金</text>
<text x="574.76" y="407.86" class="k" textLength="9" lengthAdjust="spacingAndGlyphs">月</text>
<text x="583.58" y="407.86" class="k" textLength="9" lengthAdjust="spacingAndGlyphs">木</text>
<text x="592.41" y="407.86" class="k" textLength="9" lengthAdjust="spacingAndGlyphs">日</text>
<text x="601.23" y="407.86" class="k" textLength="9" lengthAdjust="spacingAndGlyphs">水</text>
<text x="610.06" y="407.86" class="k" textLength="9" lengthAdjust="spacingAndGlyphs">土</text>
<text x="618.88" y="407.86" class="k" textLength="9" lengthAdjust="spacingAndGlyphs">火</text>
<text x="627.71" y="407.86" class="k" textLength="9" lengthAdjust="spacingAndGlyphs">金</text>
<text x="636.53" y="407.86" class="k" textLength="9" lengthAdjust="spacingAndGlyphs">月</text>
<text x="645.36" y="407.86" class="k" textLength="9" lengthAdjust="spacingAndGlyphs">木</text>
<text x="654.18" y="407.86" class="k" textLength="9" lengthAdjust="spacingAndGlyphs">日</text>
<text x="663.01" y="407.86" class="k" textLength="9" lengthAdjust="spacingAndGlyphs">水</text>
<text x="671.83" y="407.86" class="k" textLength="9" lengthAdjust="spacingAndGlyphs">土</text>
<text x="680.65" y="407.86" class="k" textLength="9" lengthAdjust="spacingAndGlyphs">火</text>
<text x="689.48" y="407.86" class="k" textLength="9" lengthAdjust="spacingAndGlyphs">金</text>
<text x="698.30" y="407.86" class="k" textLength="9" lengthAdjust="spacingAndGlyphs">月</text>
<text x="707.13" y="407.86" class="k" textLength="9" lengthAdjust="spacingAndGlyphs">木</text>
<text x="715.95" y="407.86" class="k" textLength="9" lengthAdjust="spacingAndGlyphs">日</text>
<text x="724.78" y="407.86" class="k" textLength="9" lengthAdjust="spacingAndGlyphs">水</text>
<text x="733.60" y="407.86" class="k" textLength="9" lengthAdjust="spacingAndGlyphs">土</text>
<text x="742.43" y="407.86" class="k" textLength="9" lengthAdjust="spacingAndGlyphs">火</text>
<text x="751.25" y="407.86" class="k" textLength="9" lengthAdjust="spacingAndGlyphs">金</text>
<text x="760.07" y="407.86" class="k" textLength="9" lengthAdjust="spacingAndGlyphs">月</text>
<text x="768.90" y="407.86" class="k" textLength="9" lengthAdjust="spacingAndGlyphs">木</text>
<text x="777.72" y="407.86" class="k" textLength="9" lengthAdjust="spacingAndGlyphs">日</text>
<text x="786.55" y="407.86" class="k" textLength="9" lengthAdjust="spacingAndGlyphs">水</text>
<text x="795.37" y="407.86" class="k" textLength="9" lengthAdjust="spacingAndGlyphs">土</text>
<text x="804.20" y="407.86" class="k" textLength="9" lengthAdjust="spacingAndGlyphs">火</text>
<text x="813.02" y="407.86" class="k" textLength="9" lengthAdjust="spacingAndGlyphs">金</text>
<text x="821.85" y="407.86" class="k" textLength="9" lengthAdjust="spacingAndGlyphs">月</text>
<text x="830.67" y="407.86" class="k" textLength="9" lengthAdjust="spacingAndGlyphs">木</text>
<text x="839.50" y="407.86" class="k" textLength="9" lengthAdjust="spacingAndGlyphs">日</text>
<text x="848.32" y="407.86" class="k" textLength="9" lengthAdjust="spacingAndGlyphs">水</text>
<text x="857.14" y="407.86" class="k" textLength="9" lengthAdjust="spacingAndGlyphs">土</text>
<text x="865.97" y="407.86" class="k" textLength="9" lengthAdjust="spacingAndGlyphs">火</text>
<text x="874.79" y="407.86" class="k" textLength="9" lengthAdjust="spacingAndGlyphs">金</text>
<text x="883.62" y="407.86" class="k" textLength="9" lengthAdjust="spacingAndGlyphs">月</text>
<text x="892.44" y="407.86" class="k" textLength="9" lengthAdjust="spacingAndGlyphs">木</text>
<text x="901.27" y="407.86" class="k" textLength="9" lengthAdjust="spacingAndGlyphs">日</text>
<text x="910.09" y="407.86" class="k" textLength="9" lengthAdjust="spacingAndGlyphs">水</text>
<text x="918.92" y="407.86" class="k" textLength="9" lengthAdjust="spacingAndGlyphs">土</text>
<text x="927.74" y="407.86" class="k" textLength="9" lengthAdjust="spacingAndGlyphs">火</text>
<text x="936.56" y="407.86" class="k" textLength="9" lengthAdjust="spacingAndGlyphs">金</text>
<text x="945.39" y="407.86" class="k" textLength="9" lengthAdjust="spacingAndGlyphs">月</text>
<text x="954.21" y="407.86" class="k" textLength="9" lengthAdjust="spacingAndGlyphs">木</text>
<text x="963.04" y="407.86" class="k" textLength="9" lengthAdjust="spacingAndGlyphs">日</text>
<text x="37.35" y="424.65" class="d" textLength="7.50" lengthAdjust="spacingAndGlyphs">11</text>
<text x="34.82" y="436.76" class="k" textLength="9" lengthAdjust="spacingAndGlyphs">月</text>
<text x="43.20" y="437.25" class="d" textLength="3.60" lengthAdjust="spacingAndGlyphs">1</text>
<text x="36.77" y="449.26" class="k" textLength="9" lengthAdjust="spacingAndGlyphs">日</text>
<text x="49.12" y="424.65" class="d" textLength="7.50" lengthAdjust="spacingAndGlyphs">11</text>
<text x="46.58" y="436.76" class="k" textLength="9" lengthAdjust="spacingAndGlyphs">月</text>
<text x="54.97" y="437.25" class="d" textLength="3.60" lengthAdjust="spacingAndGlyphs">5</text>
<text x="48.53" y="449.26" class="k" textLength="9" lengthAdjust="spacingAndGlyphs">日</text>
<text x="60.88" y="424.65" class="d" textLength="7.50" lengthAdjust="spacingAndGlyphs">11</text>
<text x="58.35" y="436.76" class="k" textLength="9" lengthAdjust="spacingAndGlyphs">月</text>
<text x="66.73" y="437.25" class="d" textLength="3.60" lengthAdjust="spacingAndGlyphs">9</text>
<text x="60.30" y="449.26" class="k" textLength="9" lengthAdjust="spacingAndGlyphs">日</text>
<text x="72.65" y="424.65" class="d" textLength="7.50" lengthAdjust="spacingAndGlyphs">11</text>
<text x="72.06" y="436.76" class="k" textLength="9" lengthAdjust="spacingAndGlyphs">月</text>
<text x="72.65" y="447.55" class="d" textLength="7.50" lengthAdjust="spacingAndGlyphs">13</text>
<text x="72.06" y="458.76" class="k" textLength="9" lengthAdjust="spacingAndGlyphs">日</text>
<text x="84.41" y="424.65" class="d" textLength="7.50" lengthAdjust="spacingAndGlyphs">11</text>
<text x="83.83" y="436.76" class="k" textLength="9" lengthAdjust="spacingAndGlyphs">月</text>
<text x="84.41" y="447.55" class="d" textLength="7.50" lengthAdjust="spacingAndGlyphs">17</text>
<text x="83.83" y="458.76" class="k" textLength="9" lengthAdjust="spacingAndGlyphs">日</text>
<text x="96.18" y="424.65" class="d" textLength="7.50" lengthAdjust="spacingAndGlyphs">11</text>
<text x="95.60" y="436.76" class="k" textLength="9" lengthAdjust="spacingAndGlyphs">月</text>
<text x="96.18" y="447.55" class="d" textLength="7.50" lengthAdjust="spacingAndGlyphs">21</text>
<text x="95.60" y="458.76" class="k" textLength="9" lengthAdjust="spacingAndGlyphs">日</text>
<text x="107.95" y="424.65" class="d" textLength="7.50" lengthAdjust="spacingAndGlyphs">11</text>
<text x="107.36" y="436.76" class="k" textLength="9" lengthAdjust="spacingAndGlyphs">月</text>
<text x="107.95" y="447.55" class="d" textLength="7.50" lengthAdjust="spacingAndGlyphs">25</text>
<text x="107.36" y="458.76" class="k" textLength="9" lengthAdjust="spacingAndGlyphs">日</text>
<text x="119.71" y="424.65" class="d" textLength="7.50" lengthAdjust="spacingAndGlyphs">11</text>
<text x="119.13" y="436.76" class="k" textLength="9" lengthAdjust="spacingAndGlyphs">月</text>
<text x="119.71" y="447.55" class="d" textLength="7.50" lengthAdjust="spacingAndGlyphs">29</text>
<text x="119.13" y="458.76" class="k" textLength="9" lengthAdjust="spacingAndGlyphs">日</text>
<text x="131.48" y="424.65" class="d" textLength="7.50" lengthAdjust="spacingAndGlyphs">12</text>
<text x="128.94" y="436.76" class="k" textLength="9" lengthAdjust="spacingAndGlyphs">月</text>
<text x="137.33" y="437.25" class="d" textLength="3.60" lengthAdjust="spacingAndGlyphs">3</text>
<text x="130.89" y="449.26" class="k" textLength="9" lengthAdjust="spacingAndGlyphs">日</text>
<text x="143.24" y="424.65" class="d" textLength="7.50" lengthAdjust="spacingAndGlyphs">12</text>
<text x="140.71" y="436.76" class="k" textLength="9" lengthAdjust="spacingAndGlyphs">月</text>
<text x="149.09" y="437.25" class="d" textLength="3.60" lengthAdjust="spacingAndGlyphs">7</text>
<text x="142.66" y="449.26" class="k" textLength="9" lengthAdjust="spacingAndGlyphs">日</text>
<text x="155.01" y="424.65" class="d" textLength="7.50" lengthAdjust="spacingAndGlyphs">12</text>
<text x="154.43" y="436.76" class="k" textLength="9" lengthAdjust="spacingAndGlyphs">月</text>
<text x="155.01" y="447.55" class="d" textLength="7.50" lengthAdjust="spacingAndGlyphs">11</text>
<text x="154.43" y="458.76" class="k" textLength="9" lengthAdjust="spacingAndGlyphs">日</text>
<text x="166.78" y="424.65" class="d" textLength="7.50" lengthAdjust="spacingAndGlyphs">12</text>
<text x="166.19" y="436.76" class="k" textLength="9" lengthAdjust="spacingAndGlyphs">月</text>
<text x="166.78" y="447.55" class="d" textLength="7.50" lengthAdjust="spacingAndGlyphs">15</text>
<text x="166.19" y="458.76" class="k" textLength="9" lengthAdjust="spacingAndGlyphs">日</text>
<text x="178.54" y="424.65" class="d" textLength="7.50" lengthAdjust="spacingAndGlyphs">12</text>
<text x="177.96" y="436.76" class="k" textLength="9" lengthAdjust="spacingAndGlyphs">月</text>
<text x="178.54" y="447.55" class="d" textLength="7.50" lengthAdjust="spacingAndGlyphs">19</text>
<text x="177.96" y="458.76" class="k" textLength="9" lengthAdjust="spacingAndGlyphs">日</text>
<text x="190.31" y="424.65" class="d" textLength="7.50" lengthAdjust="spacingAndGlyphs">12</text>
<text x="189.72" y="436.76" class="k" textLength="9" lengthAdjust="spacingAndGlyphs">月</text>
<text x="190.31" y="447.55" class="d" textLength="7.50" lengthAdjust="spacingAndGlyphs">23</text>
<text x="189.72" y="458.76" class="k" textLength="9" lengthAdjust="spacingAndGlyphs">日</text>
<text x="202.07" y="424.65" class="d" textLength="7.50" lengthAdjust="spacingAndGlyphs">12</text>
<text x="201.49" y="436.76" class="k" textLength="9" lengthAdjust="spacingAndGlyphs">月</text>
<text x="202.07" y="447.55" class="d" textLength="7.50" lengthAdjust="spacingAndGlyphs">27</text>
<text x="201.49" y="458.76" class="k" textLength="9" lengthAdjust="spacingAndGlyphs">日</text>
<text x="213.84" y="424.65" class="d" textLength="7.50" lengthAdjust="spacingAndGlyphs">12</text>
<text x="213.26" y="436.76" class="k" textLength="9" lengthAdjust="spacingAndGlyphs">月</text>
<text x="213.84" y="447.55" class="d" textLength="7.50" lengthAdjust="spacingAndGlyphs">31</text>
<text x="213.26" y="458.76" class="k" textLength="9" lengthAdjust="spacingAndGlyphs">日</text>
<text x="223.66" y="427.75" class="d" textLength="3.60" lengthAdjust="spacingAndGlyphs">1</text>
<text x="226.97" y="427.26" class="k" textLength="9" lengthAdjust="spacingAndGlyphs">月</text>
<text x="223.66" y="440.25" class="d" textLength="3.60" lengthAdjust="spacingAndGlyphs">4</text>
<text x="226.97" y="439.76" class="k" textLength="9" lengthAdjust="spacingAndGlyphs">日</text>
<text x="235.42" y="427.75" class="d" textLength="3.60" lengthAdjust="spacingAndGlyphs">1</text>
<text x="238.74" y="427.26" class="k" textLength="9" lengthAdjust="spacingAndGlyphs">月</text>
<text x="235.42" y="440.25" class="d" textLength="3.60" lengthAdjust="spacingAndGlyphs">8</text>
<text x="238.74" y="439.76" class="k" textLength="9" lengthAdjust="spacingAndGlyphs">日</text>
<text x="247.19" y="427.75" class="d" textLength="3.60" lengthAdjust="spacingAndGlyphs">1</text>
<text x="250.50" y="427.26" class="k" textLength="9" lengthAdjust="spacingAndGlyphs">月</text>
<text x="249.14" y="438.05" class="d" textLength="7.50" lengthAdjust="spacingAndGlyphs">12</text>
<text x="248.55" y="449.26" class="k" textLength="9" lengthAdjust="spacingAndGlyphs">日</text>
<text x="258.95" y="427.75" class="d" textLength="3.60" lengthAdjust="spacingAndGlyphs">1</text>
<text x="262.27" y="427.26" class="k" textLength="9" lengthAdjust="spacingAndGlyphs">月</text>
<text x="260.90" y="438.05" class="d" textLength="7.50" lengthAdjust="spacingAndGlyphs">16</text>
<text x="260.32" y="449.26" class="k" textLength="9" lengthAdjust="spacingAndGlyphs">日</text>
<text x="270.72" y="427.75" class="d" textLength="3.60" lengthAdjust="spacingAndGlyphs">1</text>
<text x="274.04" y="427.26" class="k" textLength="9" lengthAdjust="spacingAndGlyphs">月</text>
<text x="272.67" y="438.05" class="d" textLength="7.50" lengthAdjust="spacingAndGlyphs">20</text>
<text x="272.09" y="449.26" class="k" textLength="9" lengthAdjust="spacingAndGlyphs">日</text>
<text x="282.49" y="427.75" class="d" textLength="3.60" lengthAdjust="spacingAndGlyphs">1</text>
<text x="285.80" y="427.26" class="k" textLength="9" lengthAdjust="spacingAndGlyphs">月</text>
<text x="284.44" y="438.05" class="d" textLength="7.50" lengthAdjust="spacingAndGlyphs">24</text>
<text x="283.85" y="449.26" class="k" textLength="9" lengthAdjust="spacingAndGlyphs">日</text>
<text x="294.25" y="427.75" class="d" textLength="3.60" lengthAdjust="spacingAndGlyphs">1</text>
<text x="297.57" y="427.26" class="k" textLength="9" lengthAdjust="spacingAndGlyphs">月</text>
<text x="296.20" y="438.05" class="d" textLength="7.50" lengthAdjust="spacingAndGlyphs">28</text>
<text x="295.62" y="449.26" class="k" textLength="9" lengthAdjust="spacingAndGlyphs">日</text>
<text x="306.02" y="427.75" class="d" textLength="3.60" lengthAdjust="spacingAndGlyphs">2</text>
<text x="309.33" y="427.26" class="k" textLength="9" lengthAdjust="spacingAndGlyphs">月</text>
<text x="306.02" y="440.25" class="d" textLength="3.60" lengthAdjust="spacingAndGlyphs">1</text>
<text x="309.33" y="439.76" class="k" textLength="9" lengthAdjust="spacingAndGlyphs">日</text>
<text x="317.78" y="427.75" class="d" textLength="3.60" lengthAdjust="spacingAndGlyphs">2</text>
<text x="321.10" y="427.26" class="k" textLength="9" lengthAdjust="spacingAndGlyphs">月</text>
<text x="317.78" y="440.25" class="d" textLength="3.60" lengthAdjust="spacingAndGlyphs">5</text>
<text x="321.10" y="439.76" class="k" textLength="9" lengthAdjust="spacingAndGlyphs">日</text>
<text x="329.55" y="427.75" class="d" textLength="3.60" lengthAdjust="spacingAndGlyphs">2</text>
<text x="332.87" y="427.26" class="k" textLength="9" lengthAdjust="spacingAndGlyphs">月</text>
<text x="329.55" y="440.25" class="d" textLength="3.60" lengthAdjust="spacingAndGlyphs">9</text>
<text x="332.87" y="439.76" class="k" textLength="9" lengthAdjust="spacingAndGlyphs">日</text>
<text x="341.32" y="427.75" class="d" textLength="3.60" lengthAdjust="spacingAndGlyphs">2</text>
<text x="344.63" y="427.26" class="k" textLength="9" lengthAdjust="spacingAndGlyphs">月</text>
<text x="343.27" y="438.05" class="d" textLength="7.50" lengthAdjust="spacingAndGlyphs">13</text>
<text x="342.68" y="449.26" class="k" textLength="9" lengthAdjust="spacingAndGlyphs">日</text>
<text x="353.08" y="427.75" class="d" textLength="3.60" lengthAdjust="spacingAndGlyphs">2</text>
<text x="356.40" y="427.26" class="k" textLength="9" lengthAdjust="spacingAndGlyphs">月</text>
<text x="355.03" y="438.05" class="d" textLength="7.50" lengthAdjust="spacingAndGlyphs">17</text>
<text x="354.45" y="449.26" class="k" textLength="9" lengthAdjust="spacingAndGlyphs">日</text>
<text x="364.85" y="427.75" class="d" textLength="3.60" lengthAdjust="spacingAndGlyphs">2</text>
<text x="368.16" y="427.26" class="k" textLength="9" lengthAdjust="spacingAndGlyphs">月</text>
<text x="366.80" y="438.05" class="d" textLength="7.50" lengthAdjust="spacingAndGlyphs">21</text>
<text x="366.21" y="449.26" class="k" textLength="9" lengthAdjust="spacingAndGlyphs">日</text>
<text x="376.61" y="427.75" class="d" textLength="3.60" lengthAdjust="spacingAndGlyphs">2</text>
<text x="379.93" y="427.26" class="k" textLength="9" lengthAdjust="spacingAndGlyphs">月</text>
<text x="378.56" y="438.05" class="d" textLength="7.50" lengthAdjust="spacingAndGlyphs">25</text>
<text x="377.98" y="449.26" class="k" textLength="9" lengthAdjust="spacingAndGlyphs">日</text>
<text x="388.38" y="427.75" class="d" textLength="3.60" lengthAdjust="spacingAndGlyphs">3</text>
<text x="391.70" y="427.26" class="k" textLength="9" lengthAdjust="spacingAndGlyphs">月</text>
<text x="388.38" y="440.25" class="d" textLength="3.60" lengthAdjust="spacingAndGlyphs">1</text>
<text x="391.70" y="439.76" class="k" textLength="9" lengthAdjust="spacingAndGlyphs">日</text>
<text x="400.15" y="427.75" class="d" textLength="3.60" lengthAdjust="spacingAndGlyphs">3</text>
<text x="403.46" y="427.26" class="k" textLength="9" lengthAdjust="spacingAndGlyphs">月</text>
<text x="400.15" y="440.25" class="d" textLength="3.60" lengthAdjust="spacingAndGlyphs">5</text>
<text x="403.46" y="439.76" class="k" textLength="9" lengthAdjust="spacingAndGlyphs">日</text>
<text x="411.91" y="427.75" class="d" textLength="3.60" lengthAdjust="spacingAndGlyphs">3</text>
<text x="415.23" y="427.26" class="k" textLength="9" lengthAdjust="spacingAndGlyphs">月</text>
<text x="411.91" y="440.25" class="d" textLength="3.60" lengthAdjust="spacingAndGlyphs">9</text>
<text x="415.23" y="439.76" class="k" textLength="9" lengthAdjust="spacingAndGlyphs">日</text>
<text x="423.68" y="427.75" class="d" textLength="3.60" lengthAdjust="spacingAndGlyphs">3</text>
<text x="426.99" y="427.26" class="k" textLength="9" lengthAdjust="spacingAndGlyphs">月</text>
<text x="425.63" y="438.05" class="d" textLength="7.50" lengthAdjust="spacingAndGlyphs">13</text>
<text x="425.04" y="449.26" class="k" textLength="9" lengthAdjust="spacingAndGlyphs">日</text>
<text x="435.44" y="427.75" class="d" textLength="3.60" lengthAdjust="spacingAndGlyphs">3</text>
<text x="438.76" y="427.26" class="k" textLength="9" lengthAdjust="spacingAndGlyphs">月</text>
<text x="437.39" y="438.05" class="d" textLength="7.50" lengthAdjust="spacingAndGlyphs">17</text>
<text x="436.81" y="449.26" class="k" textLength="9" lengthAdjust="spacingAndGlyphs">日</text>
<text x="447.21" y="427.75" class="d" textLength="3.60" lengthAdjust="spacingAndGlyphs">3</text>
<text x="450.53" y="427.26" class="k" textLength="9" lengthAdjust="spacingAndGlyphs">月</text>
<text x="449.16" y="438.05" class="d" textLength="7.50" lengthAdjust="spacingAndGlyphs">21</text>
<text x="448.58" y="449.26" class="k" textLength="9" lengthAdjust="spacingAndGlyphs">日</text>
<text x="458.98" y="427.75" class="d" textLength="3.60" lengthAdjust="spacingAndGlyphs">3</text>
<text x="462.29" y="427.26" class="k" textLength="9" lengthAdjust="spacingAndGlyphs">月</text>
<text x="460.93" y="438.05" class="d" textLength="7.50" lengthAdjust="spacingAndGlyphs">25</text>
<text x="460.34" y="449.26" class="k" textLength="9" lengthAdjust="spacingAndGlyphs">日</text>
<text x="470.74" y="427.75" class="d" textLength="3.60" lengthAdjust="spacingAndGlyphs">3</text>
<text x="474.06" y="427.26" class="k" textLength="9" lengthAdjust="spacingAndGlyphs">月</text>
<text x="472.69" y="438.05" class="d" textLength="7.50" lengthAdjust="spacingAndGlyphs">29</text>
<text x="472.11" y="449.26" class="k" textLength="9" lengthAdjust="spacingAndGlyphs">日</text>
<text x="482.51" y="427.75" class="d" textLength="3.60" lengthAdjust="spacingAndGlyphs">4</text>
<text x="485.82" y="427.26" class="k" textLength="9" lengthAdjust="spacingAndGlyphs">月</text>
<text x="482.51" y="440.25" class="d" textLength="3.60" lengthAdjust="spacingAndGlyphs">2</text>
<text x="485.82" y="439.76" class="k" textLength="9" lengthAdjust="spacingAndGlyphs">日</text>
<text x="494.27" y="427.75" class="d" textLength="3.60" lengthAdjust="spacingAndGlyphs">4</text>
<text x="497.59" y="427.26" class="k" textLength="9" lengthAdjust="spacingAndGlyphs">月</text>
<text x="494.27" y="440.25" class="d" textLength="3.60" lengthAdjust="spacingAndGlyphs">6</text>
<text x="497.59" y="439.76" class="k" textLength="9" lengthAdjust="spacingAndGlyphs">日</text>
<text x="506.04" y="427.75" class="d" textLength="3.60" lengthAdjust="spacingAndGlyphs">4</text>
<text x="509.36" y="427.26" class="k" textLength="9" lengthAdjust="spacingAndGlyphs">月</text>
<text x="507.99" y="438.05" class="d" textLength="7.50" lengthAdjust="spacingAndGlyphs">10</text>
<text x="507.41" y="449.26" class="k" textLength="9" lengthAdjust="spacingAndGlyphs">日</text>
<text x="517.81" y="427.75" class="d" textLength="3.60" lengthAdjust="spacingAndGlyphs">4</text>
<text x="521.12" y="427.26" class="k" textLength="9" lengthAdjust="spacingAndGlyphs">月</text>
<text x="519.76" y="438.05" class="d" textLength="7.50" lengthAdjust="spacingAndGlyphs">14</text>
<text x="519.17" y="449.26" class="k" textLength="9" lengthAdjust="spacingAndGlyphs">日</text>
<text x="529.57" y="427.75" class="d" textLength="3.60" lengthAdjust="spacingAndGlyphs">4</text>
<text x="532.89" y="427.26" class="k" textLength="9" lengthAdjust="spacingAndGlyphs">月</text>
<text x="531.52" y="438.05" class="d" textLength="7.50" lengthAdjust="spacingAndGlyphs">18</text>
<text x="530.94" y="449.26" class="k" textLength="9" lengthAdjust="spacingAndGlyphs">日</text>
<text x="541.34" y="427.75" class="d" textLength="3.60" lengthAdjust="spacingAndGlyphs">4</text>
<text x="544.65" y="427.26" class="k" textLength="9" lengthAdjust="spacingAndGlyphs">月</text>
<text x="543.29" y="438.05" class="d" textLength="7.50" lengthAdjust="spacingAndGlyphs">22</text>
<text x="542.70" y="449.26" class="k" textLength="9" lengthAdjust="spacingAndGlyphs">日</text>
<text x="553.10" y="427.75" class="d" textLength="3.60" lengthAdjust="spacingAndGlyphs">4</text>
<text x="556.42" y="427.26" class="k" textLength="9" lengthAdjust="spacingAndGlyphs">月</text>
<text x="555.05" y="438.05" class="d" textLength="7.50" lengthAdjust="spacingAndGlyphs">26</text>
<text x="554.47" y="449.26" class="k" textLength="9" lengthAdjust="spacingAndGlyphs">日</text>
<text x="564.87" y="427.75" class="d" textLength="3.60" lengthAdjust="spacingAndGlyphs">4</text>
<text x="568.19" y="427.26" class="k" textLength="9" lengthAdjust="spacingAndGlyphs">月</text>
<text x="566.82" y="438.05" class="d" textLength="7.50" lengthAdjust="spacingAndGlyphs">30</text>
<text x="566.24" y="449.26" class="k" textLength="9" lengthAdjust="spacingAndGlyphs">日</text>
<text x="576.64" y="427.75" class="d" textLength="3.60" lengthAdjust="spacingAndGlyphs">5</text>
<text x="579.95" y="427.26" class="k" textLength="9" lengthAdjust="spacingAndGlyphs">月</text>
<text x="576.64" y="440.25" class="d" textLength="3.60" lengthAdjust="spacingAndGlyphs">4</text>
<text x="579.95" y="439.76" class="k" textLength="9" lengthAdjust="spacingAndGlyphs">日</text>
<text x="588.40" y="427.75" class="d" textLength="3.60" lengthAdjust="spacingAndGlyphs">5</text>
<text x="591.72" y="427.26" class="k" textLength="9" lengthAdjust="spacingAndGlyphs">月</text>
<text x="588.40" y="440.25" class="d" textLength="3.60" lengthAdjust="spacingAndGlyphs">8</text>
<text x="591.72" y="439.76" class="k" textLength="9" lengthAdjust="spacingAndGlyphs">日</text>
<text x="600.17" y="427.75" class="d" textLength="3.60" lengthAdjust="spacingAndGlyphs">5</text>
<text x="603.48" y="427.26" class="k" textLength="9" lengthAdjust="spacingAndGlyphs">月</text>
<text x="602.12" y="438.05" class="d" textLength="7.50" lengthAdjust="spacingAndGlyphs">12</text>
<text x="601.53" y="449.26" class="k" textLength="9" lengthAdjust="spacingAndGlyphs">日</text>
<text x="611.93" y="427.75" class="d" textLength="3.60" lengthAdjust="spacingAndGlyphs">5</text>
<text x="615.25" y="427.26" class="k" textLength="9" lengthAdjust="spacingAndGlyphs">月</text>
<text x="613.88" y="438.05" class="d" textLength="7.50" lengthAdjust="spacingAndGlyphs">16</text>
<text x="613.30" y="449.26" class="k" textLength="9" lengthAdjust="spacingAndGlyphs">日</text>
<text x="623.70" y="427.75" class="d" textLength="3.60" lengthAdjust="spacingAndGlyphs">5</text>
<text x="627.02" y="427.26" class="k" textLength="9" lengthAdjust="spacingAndGlyphs">月</text>
<text x="625.65" y="438.05" class="d" textLength="7.50" lengthAdjust="spacingAndGlyphs">20</text>
<text x="625.07" y="449.26" class="k" textLength="9" lengthAdjust="spacingAndGlyphs">日</text>
<text x="635.47" y="427.75" class="d" textLength="3.60" lengthAdjust="spacingAndGlyphs">5</text>
<text x="638.78" y="427.26" class="k" textLength="9" lengthAdjust="spacingAndGlyphs">月</text>
<text x="637.42" y="438.05" class="d" textLength="7.50" lengthAdjust="spacingAndGlyphs">24</text>
<text x="636.83" y="449.26" class="k" textLength="9" lengthAdjust="spacingAndGlyphs">日</text>
<text x="647.23" y="427.75" class="d" textLength="3.60" lengthAdjust="spacingAndGlyphs">5</text>
<text x="650.55" y="427.26" class="k" textLength="9" lengthAdjust="spacingAndGlyphs">月</text>
<text x="649.18" y="438.05" class="d" textLength="7.50" lengthAdjust="spacingAndGlyphs">28</text>
<text x="648.60" y="449.26" class="k" textLength="9" lengthAdjust="spacingAndGlyphs">日</text>
<text x="659.00" y="427.75" class="d" textLength="3.60" lengthAdjust="spacingAndGlyphs">6</text>
<text x="662.31" y="427.26" class="k" textLength="9" lengthAdjust="spacingAndGlyphs">月</text>
<text x="659.00" y="440.25" class="d" textLength="3.60" lengthAdjust="spacingAndGlyphs">1</text>
<text x="662.31" y="439.76" class="k" textLength="9" lengthAdjust="spacingAndGlyphs">日</text>
<text x="670.76" y="427.75" class="d" textLength="3.60" lengthAdjust="spacingAndGlyphs">6</text>
<text x="674.08" y="427.26" class="k" textLength="9" lengthAdjust="spacingAndGlyphs">月</text>
<text x="670.76" y="440.25" class="d" textLength="3.60" lengthAdjust="spacingAndGlyphs">5</text>
<text x="674.08" y="439.76" class="k" textLength="9" lengthAdjust="spacingAndGlyphs">日</text>
<text x="682.53" y="427.75" class="d" textLength="3.60" lengthAdjust="spacingAndGlyphs">6</text>
<text x="685.85" y="427.26" class="k" textLength="9" lengthAdjust="spacingAndGlyphs">月</text>
<text x="682.53" y="440.25" class="d" textLength="3.60" lengthAdjust="spacingAndGlyphs">9</text>
<text x="685.85" y="439.76" class="k" textLength="9" lengthAdjust="spacingAndGlyphs">日</text>
<text x="694.30" y="427.75" class="d" textLength="3.60" lengthAdjust="spacingAndGlyphs">6</text>
<text x="697.61" y="427.26" class="k" textLength="9" lengthAdjust="spacingAndGlyphs">月</text>
<text x="696.25" y="438.05" class="d" textLength="7.50" lengthAdjust="spacingAndGlyphs">13</text>
<text x="695.66" y="449.26" class="k" textLength="9" lengthAdjust="spacingAndGlyphs">日</text>
<text x="706.06" y="427.75" class="d" textLength="3.60" lengthAdjust="spacingAndGlyphs">6</text>
<text x="709.38" y="427.26" class="k" textLength="9" lengthAdjust="spacingAndGlyphs">月</text>
<text x="708.01" y="438.05" class="d" textLength="7.50" lengthAdjust="spacingAndGlyphs">17</text>
<text x="707.43" y="449.26" class="k" textLength="9" lengthAdjust="spacingAndGlyphs">日</text>
<text x="717.83" y="427.75" class="d" textLength="3.60" lengthAdjust="spacingAndGlyphs">6</text>
<text x="721.14" y="427.26" class="k" textLength="9" lengthAdjust="spacingAndGlyphs">月</text>
<text x="719.78" y="438.05" class="d" textLength="7.50" lengthAdjust="spacingAndGlyphs">21</text>
<text x="719.19" y="449.26" class="k" textLength="9" lengthAdjust="spacingAndGlyphs">日</text>
<text x="729.59" y="427.75" class="d" textLength="3.60" lengthAdjust="spacingAndGlyphs">6</text>
<text x="732.91" y="427.26" class="k" textLength="9" lengthAdjust="spacingAndGlyphs">月</text>
<text x="731.54" y="438.05" class="d" textLength="7.50" lengthAdjust="spacingAndGlyphs">25</text>
<text x="730.96" y="449.26" class="k" textLength="9" lengthAdjust="spacingAndGlyphs">日</text>
<text x="741.36" y="427.75" class="d" textLength="3.60" lengthAdjust="spacingAndGlyphs">6</text>
<text x="744.68" y="427.26" class="k" textLength="9" lengthAdjust="spacingAndGlyphs">月</text>
<text x="743.31" y="438.05" class="d" textLength="7.50" lengthAdjust="spacingAndGlyphs">29</text>
<text x="742.73" y="449.26" class="k" textLength="9" lengthAdjust="spacingAndGlyphs">日</text>
<text x="753.13" y="427.75" class="d" textLength="3.60" lengthAdjust="spacingAndGlyphs">7</text>
<text x="756.44" y="427.26" class="k" textLength="9" lengthAdjust="spacingAndGlyphs">月</text>
<text x="753.13" y="440.25" class="d" textLength="3.60" lengthAdjust="spacingAndGlyphs">3</text>
<text x="756.44" y="439.76" class="k" textLength="9" lengthAdjust="spacingAndGlyphs">日</text>
<text x="764.89" y="427.75" class="d" textLength="3.60" lengthAdjust="spacingAndGlyphs">7</text>
<text x="768.21" y="427.26" class="k" textLength="9" lengthAdjust="spacingAndGlyphs">月</text>
<text x="764.89" y="440.25" class="d" textLength="3.60" lengthAdjust="spacingAndGlyphs">7</text>
<text x="768.21" y="439.76" class="k" textLength="9" lengthAdjust="spacingAndGlyphs">日</text>
<text x="776.66" y="427.75" class="d" textLength="3.60" lengthAdjust="spacingAndGlyphs">7</text>
<text x="779.97" y="427.26" class="k" textLength="9" lengthAdjust="spacingAndGlyphs">月</text>
<text x="778.61" y="438.05" class="d" textLength="7.50" lengthAdjust="spacingAndGlyphs">11</text>
<text x="778.02" y="449.26" class="k" textLength="9" lengthAdjust="spacingAndGlyphs">日</text>
<text x="788.42" y="427.75" class="d" textLength="3.60" lengthAdjust="spacingAndGlyphs">7</text>
<text x="791.74" y="427.26" class="k" textLength="9" lengthAdjust="spacingAndGlyphs">月</text>
<text x="790.37" y="438.05" class="d" textLength="7.50" lengthAdjust="spacingAndGlyphs">15</text>
<text x="789.79" y="449.26" class="k" textLength="9" lengthAdjust="spacingAndGlyphs">日</text>
<text x="800.19" y="427.75" class="d" textLength="3.60" lengthAdjust="spacingAndGlyphs">7</text>
<text x="803.51" y="427.26" class="k" textLength="9" lengthAdjust="spacingAndGlyphs">月</text>
<text x="802.14" y="438.05" class="d" textLength="7.50" lengthAdjust="spacingAndGlyphs">19</text>
<text x="801.56" y="449.26" class="k" textLength="9" lengthAdjust="spacingAndGlyphs">日</text>
<text x="811.96" y="427.75" class="d" textLength="3.60" lengthAdjust="spacingAndGlyphs">7</text>
<text x="815.27" y="427.26" class="k" textLength="9" lengthAdjust="spacingAndGlyphs">月</text>
<text x="813.91" y="438.05" class="d" textLength="7.50" lengthAdjust="spacingAndGlyphs">23</text>
<text x="813.32" y="449.26" class="k" textLength="9" lengthAdjust="spacingAndGlyphs">日</text>
<text x="823.72" y="427.75" class="d" textLength="3.60" lengthAdjust="spacingAndGlyphs">7</text>
<text x="827.04" y="427.26" class="k" textLength="9" lengthAdjust="spacingAndGlyphs">月</text>
<text x="825.67" y="438.05" class="d" textLength="7.50" lengthAdjust="spacingAndGlyphs">27</text>
<text x="825.09" y="449.26" class="k" textLength="9" lengthAdjust="spacingAndGlyphs">日</text>
<text x="835.49" y="427.75" class="d" textLength="3.60" lengthAdjust="spacingAndGlyphs">7</text>
<text x="838.80" y="427.26" class="k" textLength="9" lengthAdjust="spacingAndGlyphs">月</text>
<text x="837.44" y="438.05" class="d" textLength="7.50" lengthAdjust="spacingAndGlyphs">31</text>
<text x="836.85" y="449.26" class="k" textLength="9" lengthAdjust="spacingAndGlyphs">日</text>
<text x="847.25" y="427.75" class="d" textLength="3.60" lengthAdjust="spacingAndGlyphs">8</text>
<text x="850.57" y="427.26" class="k" textLength="9" lengthAdjust="spacingAndGlyphs">月</text>
<text x="847.25" y="440.25" class="d" textLength="3.60" lengthAdjust="spacingAndGlyphs">4</text>
<text x="850.57" y="439.76" class="k" textLength="9" lengthAdjust="spacingAndGlyphs">日</text>
<text x="859.02" y="427.75" class="d" textLength="3.60" lengthAdjust="spacingAndGlyphs">8</text>
<text x="862.34" y="427.26" class="k" textLength="9" lengthAdjust="spacingAndGlyphs">月</text>
<text x="859.02" y="440.25" class="d" textLength="3.60" lengthAdjust="spacingAndGlyphs">8</text>
<text x="862.34" y="439.76" class="k" textLength="9" lengthAdjust="spacingAndGlyphs">日</text>
<text x="870.79" y="427.75" class="d" textLength="3.60" lengthAdjust="spacingAndGlyphs">8</text>
<text x="874.10" y="427.26" class="k" textLength="9" lengthAdjust="spacingAndGlyphs">月</text>
<text x="872.74" y="438.05" class="d" textLength="7.50" lengthAdjust="spacingAndGlyphs">12</text>
<text x="872.15" y="449.26" class="k" textLength="9" lengthAdjust="spacingAndGlyphs">日</text>
<text x="882.55" y="427.75" class="d" textLength="3.60" lengthAdjust="spacingAndGlyphs">8</text>
<text x="885.87" y="427.26" class="k" textLength="9" lengthAdjust="spacingAndGlyphs">月</text>
<text x="884.50" y="438.05" class="d" textLength="7.50" lengthAdjust="spacingAndGlyphs">16</text>
<text x="883.92" y="449.26" class="k" textLength="9" lengthAdjust="spacingAndGlyphs">日</text>
<text x="894.32" y="427.75" class="d" textLength="3.60" lengthAdjust="spacingAndGlyphs">8</text>
<text x="897.63" y="427.26" class="k" textLength="9" lengthAdjust="spacingAndGlyphs">月</text>
<text x="896.27" y="438.05" class="d" textLength="7.50" lengthAdjust="spacingAndGlyphs">20</text>
<text x="895.68" y="449.26" class="k" textLength="9" lengthAdjust="spacingAndGlyphs">日</text>
<text x="906.08" y="427.75" class="d" textLength="3.60" lengthAdjust="spacingAndGlyphs">8</text>
<text x="909.40" y="427.26" class="k" textLength="9" lengthAdjust="spacingAndGlyphs">月</text>
<text x="908.03" y="438.05" class="d" textLength="7.50" lengthAdjust="spacingAndGlyphs">24</text>
<text x="907.45" y="449.26" class="k" textLength="9" lengthAdjust="spacingAndGlyphs">日</text>
<text x="917.85" y="427.75" class="d" textLength="3.60" lengthAdjust="spacingAndGlyphs">8</text>
<text x="921.17" y="427.26" class="k" textLength="9" lengthAdjust="spacingAndGlyphs">月</text>
<text x="919.80" y="438.05" class="d" textLength="7.50" lengthAdjust="spacingAndGlyphs">28</text>
<text x="919.22" y="449.26" class="k" textLength="9" lengthAdjust="spacingAndGlyphs">日</text>
<text x="929.62" y="427.75" class="d" textLength="3.60" lengthAdjust="spacingAndGlyphs">9</text>
<text x="932.93" y="427.26" class="k" textLength="9" lengthAdjust="spacingAndGlyphs">月</text>
<text x="929.62" y="440.25" class="d" textLength="3.60" lengthAdjust="spacingAndGlyphs">1</text>
<text x="932.93" y="439.76" class="k" textLength="9" lengthAdjust="spacingAndGlyphs">日</text>
<text x="941.38" y="427.75" class="d" textLength="3.60" lengthAdjust="spacingAndGlyphs">9</text>
<text x="944.70" y="427.26" class="k" textLength="9" lengthAdjust="spacingAndGlyphs">月</text>
<text x="941.38" y="440.25" class="d" textLength="3.60" lengthAdjust="spacingAndGlyphs">5</text>
<text x="944.70" y="439.76" class="k" textLength="9" lengthAdjust="spacingAndGlyphs">日</text>
<text x="953.15" y="427.75" class="d" textLength="3.60" lengthAdjust="spacingAndGlyphs">9</text>
<text x="956.46" y="427.26" class="k" textLength="9" lengthAdjust="spacingAndGlyphs">月</text>
<text x="953.15" y="440.25" class="d" textLength="3.60" lengthAdjust="spacingAndGlyphs">9</text>
<text x="956.46" y="439.76" class="k" textLength="9" lengthAdjust="spacingAndGlyphs">日</text>
<rect x="403.2" y="468.4" width="15.4" height="5" fill="#4472c4"/>
<text x="421.40" y="473.75" class="s" textLength="15" lengthAdjust="spacingAndGlyphs">系列</text><text x="436.40" y="473.30" class="l">1</text>
<path d="M450.0 471.1H465.8" stroke="#ed7d31" stroke-width="3.2" stroke-linecap="round"/>
<text x="468.30" y="473.75" class="s" textLength="15" lengthAdjust="spacingAndGlyphs">系列</text><text x="483.30" y="473.30" class="l">2</text>
<path d="M496.5 471.1H512.5" stroke="#a5a5a5" stroke-width="3.2" stroke-linecap="round"/>
<text x="515.00" y="473.75" class="s" textLength="15" lengthAdjust="spacingAndGlyphs">系列</text><text x="530.00" y="473.30" class="l">3</text>
<path d="M543.5 471.1H559.0" stroke="#ffc000" stroke-width="3.2" stroke-linecap="round"/>
<text x="561.80" y="473.75" class="s" textLength="15" lengthAdjust="spacingAndGlyphs">系列</text><text x="576.80" y="473.30" class="l">4</text>
</svg>
</body></html>
